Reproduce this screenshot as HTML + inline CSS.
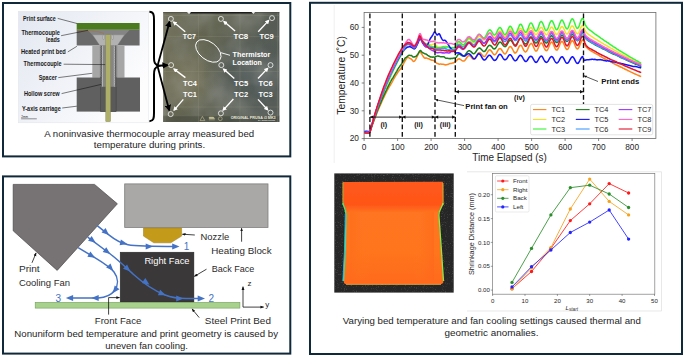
<!DOCTYPE html>
<html><head><meta charset="utf-8">
<style>
html,body{margin:0;padding:0;background:#fff;}
body{width:685px;height:358px;overflow:hidden;font-family:"Liberation Sans",sans-serif;}
svg{display:block;font-family:"Liberation Sans",sans-serif;}
.cap{font-size:9.7px;fill:#1d1d1d;text-anchor:middle;}
.lab{font-size:9.9px;fill:#2a2a2a;}
.bl{font-size:6.3px;font-weight:bold;fill:#1a1a1a;}
.tc{font-size:7px;font-weight:bold;fill:#fff;}
.tick{font-size:8.3px;fill:#262626;}
.stick{font-size:6.1px;fill:#262626;}
</style></head><body>
<svg width="685" height="358" viewBox="0 0 685 358">
<defs>
<linearGradient id="bg1" x1="0" y1="0" x2="1" y2="0.6">
<stop offset="0" stop-color="#e3e8f1"/><stop offset="0.55" stop-color="#f1f3f8"/><stop offset="1" stop-color="#fdfdfe"/>
</linearGradient>
<marker id="ab" viewBox="0 0 10 10" refX="8" refY="5" markerWidth="3.6" markerHeight="3.6" orient="auto-start-reverse"><path d="M0,0 L10,5 L0,10 z" fill="#000"/></marker>
<marker id="abs" viewBox="0 0 10 10" refX="9" refY="5" markerWidth="4.5" markerHeight="4.5" orient="auto-start-reverse"><path d="M0,1 L10,5 L0,9 z" fill="#111"/></marker>
<marker id="aw" viewBox="0 0 10 10" refX="7" refY="5" markerWidth="3.3" markerHeight="3.3" orient="auto"><path d="M0,0 L10,5 L0,10 z" fill="#fff"/></marker>
<marker id="abl" viewBox="0 0 10 10" refX="9" refY="5" markerWidth="4.2" markerHeight="4.2" orient="auto"><path d="M0,0 L10,5 L0,10 z" fill="#4472c4"/></marker>
<filter id="soft" x="-5%" y="-5%" width="110%" height="110%"><feGaussianBlur stdDeviation="0.35"/></filter>
<filter id="soft2" x="-5%" y="-5%" width="110%" height="110%"><feGaussianBlur stdDeviation="0.5"/></filter>
<filter id="noise" x="0" y="0" width="100%" height="100%">
<feTurbulence type="fractalNoise" baseFrequency="0.035" numOctaves="3" seed="7" result="n"/>
<feColorMatrix in="n" type="matrix" values="0 0 0 0 0.30  0 0 0 0 0.31  0 0 0 0 0.28  1.1 1.1 0 0 -0.8" result="c"/>
<feComposite in="c" in2="SourceGraphic" operator="in"/>
</filter>
<linearGradient id="heat" x1="0" y1="0" x2="0" y2="1">
<stop offset="0" stop-color="#ff5a1c"/><stop offset="0.22" stop-color="#ff5518"/><stop offset="0.30" stop-color="#ff7420"/><stop offset="0.7" stop-color="#ff741f"/><stop offset="1" stop-color="#ff6a1c"/>
</linearGradient>
<filter id="grain" x="0" y="0" width="100%" height="100%">
<feTurbulence type="fractalNoise" baseFrequency="0.9" numOctaves="2" seed="3" result="n"/>
<feColorMatrix in="n" type="matrix" values="0 0 0 0 1  0 0 0 0 1  0 0 0 0 1  0.6 0.6 0.6 0 -0.95" result="c"/>
<feComposite in="c" in2="SourceGraphic" operator="in"/>
</filter>
<linearGradient id="heatx" x1="0" y1="0" x2="1" y2="0">
<stop offset="0" stop-color="#ff6a1c" stop-opacity="0.5"/><stop offset="0.25" stop-color="#ff7a22" stop-opacity="0"/><stop offset="0.75" stop-color="#ff7a22" stop-opacity="0"/><stop offset="1" stop-color="#ff641a" stop-opacity="0.5"/>
</linearGradient>
<linearGradient id="phbase" x1="0" y1="0" x2="1" y2="0.3">
<stop offset="0" stop-color="#6f6e58"/><stop offset="0.45" stop-color="#616350"/><stop offset="1" stop-color="#545b56"/>
</linearGradient>
<radialGradient id="phwarm" cx="0.2" cy="0.62" r="0.3">
<stop offset="0" stop-color="#878265" stop-opacity="0.7"/><stop offset="1" stop-color="#8d8667" stop-opacity="0"/>
</radialGradient>
<radialGradient id="phcool" cx="0.72" cy="0.55" r="0.4">
<stop offset="0" stop-color="#4f5a5e" stop-opacity="0.7"/><stop offset="1" stop-color="#4f5a5e" stop-opacity="0"/>
</radialGradient>
<clipPath id="axclip"><rect x="364.1" y="12.4" width="291.8" height="126.2"/></clipPath>
</defs>
<rect width="685" height="358" fill="#fff"/>

<!-- ================= BOX 1 ================= -->
<rect x="3" y="3" width="287.3" height="153.4" fill="#fff" stroke="#10293a" stroke-width="2"/>
<g id="xsec">
<rect x="18.3" y="11.3" width="130.3" height="111.5" fill="url(#bg1)" stroke="#dfe3ea" stroke-width="0.5"/>
<!-- bed -->
<rect x="76.7" y="29.6" width="62.9" height="15.9" fill="#6a6a6a"/>
<rect x="76.7" y="23" width="62.9" height="6.7" fill="#4b7a1f"/>
<!-- countersink -->
<path d="M87.6,30 L129.5,30 L116.2,44.6 L101,44.6 Z" fill="#858585"/>
<path d="M92.6,34.8 L124.5,34.8 L117.3,45.6 L99.8,45.6 Z" fill="#b2b2b2" stroke="#7a7a7a" stroke-width="0.3"/>
<path d="M77,30.2 C90,30.5 98,31 104,33.5" fill="none" stroke="#a8712a" stroke-width="0.5"/>
<!-- spacer -->
<rect x="92.3" y="45.5" width="32.2" height="32.2" fill="#a6a6a6"/>
<rect x="99.8" y="45.5" width="17.5" height="32.2" fill="#8d8d8d"/>
<!-- carriage -->
<rect x="76.7" y="77.5" width="63.3" height="34.1" fill="#606060"/>
<rect x="100.7" y="77.5" width="15.4" height="34.1" fill="#5a5a5a" stroke="#3e3e3e" stroke-width="0.5"/>
<!-- screw threaded body -->
<rect x="100.6" y="45.5" width="15.6" height="41.3" fill="#868686"/>
<path d="M100.70,45.80 L102.00,46.65 L100.70,47.50 L102.00,48.35 L100.70,49.20 L102.00,50.05 L100.70,50.90 L102.00,51.75 L100.70,52.60 L102.00,53.45 L100.70,54.30 L102.00,55.15 L100.70,56.00 L102.00,56.85 L100.70,57.70 L102.00,58.55 L100.70,59.40 L102.00,60.25 L100.70,61.10 L102.00,61.95 L100.70,62.80 L102.00,63.65 L100.70,64.50 L102.00,65.35 L100.70,66.20 L102.00,67.05 L100.70,67.90 L102.00,68.75 L100.70,69.60 L102.00,70.45 L100.70,71.30 L102.00,72.15 L100.70,73.00 L102.00,73.85 L100.70,74.70 L102.00,75.55 L100.70,76.40 L102.00,77.25 L100.70,78.10 L102.00,78.95 L100.70,79.80 L102.00,80.65 L100.70,81.50 L102.00,82.35 L100.70,83.20 L102.00,84.05 L100.70,84.90 L102.00,85.75 L100.70,86.60" fill="none" stroke="#3f3f3f" stroke-width="0.5"/>
<path d="M116.10,45.80 L114.80,46.65 L116.10,47.50 L114.80,48.35 L116.10,49.20 L114.80,50.05 L116.10,50.90 L114.80,51.75 L116.10,52.60 L114.80,53.45 L116.10,54.30 L114.80,55.15 L116.10,56.00 L114.80,56.85 L116.10,57.70 L114.80,58.55 L116.10,59.40 L114.80,60.25 L116.10,61.10 L114.80,61.95 L116.10,62.80 L114.80,63.65 L116.10,64.50 L114.80,65.35 L116.10,66.20 L114.80,67.05 L116.10,67.90 L114.80,68.75 L116.10,69.60 L114.80,70.45 L116.10,71.30 L114.80,72.15 L116.10,73.00 L114.80,73.85 L116.10,74.70 L114.80,75.55 L116.10,76.40 L114.80,77.25 L116.10,78.10 L114.80,78.95 L116.10,79.80 L114.80,80.65 L116.10,81.50 L114.80,82.35 L116.10,83.20 L114.80,84.05 L116.10,84.90 L114.80,85.75 L116.10,86.60" fill="none" stroke="#3f3f3f" stroke-width="0.5"/>
<path d="M101.90,45.80 L103.00,46.65 L101.90,47.50 L103.00,48.35 L101.90,49.20 L103.00,50.05 L101.90,50.90 L103.00,51.75 L101.90,52.60 L103.00,53.45 L101.90,54.30 L103.00,55.15 L101.90,56.00 L103.00,56.85 L101.90,57.70 L103.00,58.55 L101.90,59.40 L103.00,60.25 L101.90,61.10 L103.00,61.95 L101.90,62.80 L103.00,63.65 L101.90,64.50 L103.00,65.35 L101.90,66.20 L103.00,67.05 L101.90,67.90 L103.00,68.75 L101.90,69.60 L103.00,70.45 L101.90,71.30 L103.00,72.15 L101.90,73.00 L103.00,73.85 L101.90,74.70 L103.00,75.55 L101.90,76.40 L103.00,77.25 L101.90,78.10 L103.00,78.95 L101.90,79.80 L103.00,80.65 L101.90,81.50 L103.00,82.35 L101.90,83.20 L103.00,84.05 L101.90,84.90 L103.00,85.75 L101.90,86.60" fill="none" stroke="#e6e6e6" stroke-width="0.45"/>
<path d="M114.90,45.80 L113.80,46.65 L114.90,47.50 L113.80,48.35 L114.90,49.20 L113.80,50.05 L114.90,50.90 L113.80,51.75 L114.90,52.60 L113.80,53.45 L114.90,54.30 L113.80,55.15 L114.90,56.00 L113.80,56.85 L114.90,57.70 L113.80,58.55 L114.90,59.40 L113.80,60.25 L114.90,61.10 L113.80,61.95 L114.90,62.80 L113.80,63.65 L114.90,64.50 L113.80,65.35 L114.90,66.20 L113.80,67.05 L114.90,67.90 L113.80,68.75 L114.90,69.60 L113.80,70.45 L114.90,71.30 L113.80,72.15 L114.90,73.00 L113.80,73.85 L114.90,74.70 L113.80,75.55 L114.90,76.40 L113.80,77.25 L114.90,78.10 L113.80,78.95 L114.90,79.80 L113.80,80.65 L114.90,81.50 L113.80,82.35 L114.90,83.20 L113.80,84.05 L114.90,84.90 L113.80,85.75 L114.90,86.60" fill="none" stroke="#e6e6e6" stroke-width="0.45"/>
<!-- thermocouple -->
<rect x="105.8" y="34.8" width="4.7" height="86.8" fill="#aeb06a" stroke="#83854c" stroke-width="0.45"/>
<rect x="102.8" y="35" width="1.6" height="4.5" rx="0.8" fill="#c6c6c6" stroke="#666" stroke-width="0.3"/>
<rect x="111.8" y="35" width="1.6" height="4.5" rx="0.8" fill="#c6c6c6" stroke="#666" stroke-width="0.3"/>
<!-- leader lines -->
<g stroke="#111" stroke-width="0.55" fill="none">
<path d="M57.7,18.4 L77,23.5"/>
<path d="M61.1,35.7 L88,30.3"/>
<path d="M67.8,51.9 L76.9,46.3"/>
<path d="M63.6,64.2 L105.2,64.6"/>
<path d="M58.3,77.6 L92.2,73.3"/>
<path d="M61.6,93.6 L101.2,84.4"/>
<path d="M62.2,108 L76.8,106.2"/>
<path d="M21.1,118.8 L36.8,118.8" stroke-width="0.45"/>
</g>
<g class="bl">
<text x="23" y="20.6" textLength="32.7" lengthAdjust="spacingAndGlyphs">Print surface</text>
<text x="21.4" y="34.6" textLength="38.5" lengthAdjust="spacingAndGlyphs">Thermocouple</text>
<text x="46" y="41.8" textLength="13.9" lengthAdjust="spacingAndGlyphs">leads</text>
<text x="20.9" y="53.6" textLength="44.9" lengthAdjust="spacingAndGlyphs">Heated print bed</text>
<text x="23.6" y="66.2" textLength="38" lengthAdjust="spacingAndGlyphs">Thermocouple</text>
<text x="38.7" y="79.6" textLength="18.1" lengthAdjust="spacingAndGlyphs">Spacer</text>
<text x="23.9" y="95.7" textLength="35.8" lengthAdjust="spacingAndGlyphs">Hollow screw</text>
<text x="21.9" y="110.5" textLength="38.8" lengthAdjust="spacingAndGlyphs">Y-axis carriage</text>
<text x="21.3" y="117.8" style="font-size:3px;font-weight:normal">2mm</text>
</g>
</g>
<!-- brace -->
<path d="M149.4,11.8 C153.8,12 154,15 154,20 L154,58 C154,62 154.5,64.6 159.3,65.9 C154.5,67.2 154,69.8 154,75 L154,113 C154,118 153.8,121 149.4,121.3" fill="none" stroke="#000" stroke-width="2"/>
<!-- photo -->
<g id="photo">
<rect x="163.2" y="12" width="116.2" height="110" fill="url(#phbase)"/>
<rect x="163.2" y="12" width="116.2" height="110" fill="url(#phwarm)"/>
<rect x="163.2" y="12" width="116.2" height="110" fill="url(#phcool)"/>
<rect x="163.2" y="12" width="116.2" height="110" fill="#fff" filter="url(#noise)" opacity="0.55"/>
<rect x="163.2" y="115.6" width="116.2" height="6.4" fill="#383b32" opacity="0.4"/>
<g stroke="#9a9982" stroke-width="0.4" opacity="0.55">
<path d="M163.2,36.5 H279.4 M163.2,71.5 H279.4 M163.2,107 H279.4 M163.2,115.8 H279.4 M198.5,12 V122 M240,12 V122 M277.5,12 V122 M165,12 V122 M163.2,15.5 H279.4"/>
</g>
<rect x="163.2" y="12" width="116.2" height="1.2" fill="#3a3a34" opacity="0.5"/><rect x="188" y="12" width="65" height="1.5" fill="#1c1c1a"/>
<path d="M187,12 l2,2.2 l2,-2.2 z M251.5,12 l1.8,2 l1.8,-2 z" fill="#eee"/>
<g fill="none" stroke="#fff" stroke-width="0.75">
<circle cx="170.9" cy="18.9" r="2.5"/><circle cx="220.9" cy="18.9" r="2.5"/><circle cx="272" cy="18.1" r="2.5"/>
<circle cx="171.1" cy="65.1" r="2.5"/><circle cx="221.3" cy="65.1" r="2.5"/><circle cx="270.5" cy="65.1" r="2.5"/>
<circle cx="170.7" cy="114.1" r="2.5"/><circle cx="220.9" cy="113.3" r="2.5"/><circle cx="270.5" cy="112.6" r="2.5"/>
<ellipse cx="208.3" cy="50.9" rx="14.6" ry="8.8" transform="rotate(38 208.3 50.9)" stroke-width="0.9"/>
<path d="M220.6,52.6 L230,55.3" stroke-width="0.9"/>
</g>
<g fill="none" stroke="#fff" stroke-width="1.35" marker-end="url(#aw)">
<path d="M185.2,31.8 L173.6,22.1"/>
<path d="M235.1,31 L224,21.6"/>
<path d="M258.2,31.8 L268.6,20.6"/>
<path d="M185.4,77.6 L174.1,69.1"/>
<path d="M234.3,78.5 L223.6,69.1"/>
<path d="M258,78.5 L267.6,68.4"/>
<path d="M183.3,99.4 L174.1,110.1"/>
<path d="M233.4,99 L223.2,110.1"/>
<path d="M258,99.4 L267.6,109.7"/>
</g>
<g class="tc">
<text x="182.7" y="38.9" textLength="13.3" lengthAdjust="spacingAndGlyphs">TC7</text>
<text x="233.4" y="38.9" textLength="14.8" lengthAdjust="spacingAndGlyphs">TC8</text>
<text x="259.4" y="38.9" textLength="14.3" lengthAdjust="spacingAndGlyphs">TC9</text>
<text x="182.9" y="85.7" textLength="14" lengthAdjust="spacingAndGlyphs">TC4</text>
<text x="233.9" y="85.7" textLength="14.2" lengthAdjust="spacingAndGlyphs">TC5</text>
<text x="258.4" y="85.7" textLength="14.2" lengthAdjust="spacingAndGlyphs">TC6</text>
<text x="182.9" y="96.6" textLength="14" lengthAdjust="spacingAndGlyphs">TC1</text>
<text x="233.9" y="96.6" textLength="14.2" lengthAdjust="spacingAndGlyphs">TC2</text>
<text x="258.4" y="96.6" textLength="14.2" lengthAdjust="spacingAndGlyphs">TC3</text>
<text x="232.6" y="57.2" textLength="37.7" lengthAdjust="spacingAndGlyphs" style="font-size:6.9px">Thermistor</text>
<text x="232.6" y="64.7" textLength="29.3" lengthAdjust="spacingAndGlyphs" style="font-size:6.9px">Location</text>
<text x="230.7" y="118.6" textLength="45" lengthAdjust="spacingAndGlyphs" style="font-size:3.8px;fill:#ecebdc">ORIGINAL PRUSA i3 MK3</text>
<text x="258" y="121.3" textLength="17" lengthAdjust="spacingAndGlyphs" style="font-size:2.4px;font-weight:normal">by Josef Prusa</text>
</g>
<g fill="none" stroke="#d9d1a0" stroke-width="0.5">
<path d="M200,120.6 l2.4,-4.2 l2.4,4.2 z"/>
<circle cx="220.3" cy="118.7" r="1.9"/>
<path d="M209.2,117.2 h4.2 l1.2,1.2 h-5.4 z M208.8,119.8 h6" fill="#d9d1a0"/>
</g>
</g>
<!-- black arrows from brace -->
<g stroke="#000" stroke-width="1.8" fill="none" marker-end="url(#ab)">
<path d="M157.5,65.9 L169.6,21.8"/>
<path d="M157.5,65.7 L167.6,65.2"/>
<path d="M157.5,65.9 L169.2,110.2"/>
</g>
<text class="cap" x="149.2" y="136.5" textLength="210" lengthAdjust="spacingAndGlyphs">A noninvasive thermocouple array measured bed</text>
<text class="cap" x="149.5" y="148.2" textLength="111.4" lengthAdjust="spacingAndGlyphs">temperature during prints.</text>

<!-- ================= BOX 2 ================= -->
<rect x="3" y="176.4" width="287.3" height="177.2" fill="#fff" stroke="#10293a" stroke-width="2"/>
<path d="M13.2,184.4 L94.5,184.4 L117.4,203.8 L57.2,270.4 L13.2,230.8 Z" fill="#777374" stroke="#4a4848" stroke-width="0.7"/>
<rect x="124.7" y="183.9" width="143.3" height="43.5" fill="#aaa7a7" stroke="#7f7d7d" stroke-width="0.8"/>
<path d="M143.5,228 L181.6,228 L181.6,236.1 L170.8,242.8 L153.8,242.8 L143.5,236.1 Z" fill="#c49a1b" stroke="#9a7a10" stroke-width="0.5"/>
<rect x="120.2" y="252.2" width="73.7" height="49.9" fill="#3a3838" stroke="#222" stroke-width="0.5"/>
<rect x="35.2" y="302.4" width="204.7" height="5.7" fill="#a9d18e" stroke="#6f9f55" stroke-width="0.6"/>
<!-- blue flows -->
<g fill="none" stroke="#4472c4" stroke-width="1.5">
<path d="M97.2,225.6 L108.5,234.6 C114,239 120,243.2 128,244.7 C136,246.1 150,246.4 176,246.4"/>
<path d="M87.7,237.1 L110.3,254 C118,260 126,267.5 133,274 C143,283 155,291 165,295 C172,297.8 178,298.5 186,298.5 L201,298.5"/>
<path d="M78.1,247.7 L95.2,257.8 C103,262.5 110,267 114,272 C118.5,278 118.5,285 114.5,290.5 C111,295.5 105,297.5 98,298 L69,298"/>
</g>
<g fill="#4472c4">
<path d="M0,0 L-7.3,-3 L-7.3,3 Z" transform="translate(109,235.1) rotate(42)"/>
<path d="M0,0 L-7.3,-3 L-7.3,3 Z" transform="translate(127.4,243.9) rotate(12)"/>
<path d="M0,0 L-7.3,-3 L-7.3,3 Z" transform="translate(153,246.4) rotate(0)"/>
<path d="M0,0 L-7.3,-3 L-7.3,3 Z" transform="translate(179.5,246.4) rotate(0)"/>
<path d="M0,0 L-7.3,-3 L-7.3,3 Z" transform="translate(95.7,242.7) rotate(37)"/>
<path d="M0,0 L-7.3,-3 L-7.3,3 Z" transform="translate(110.3,254) rotate(37)"/>
<path d="M0,0 L-7.3,-3 L-7.3,3 Z" transform="translate(130.4,271.6) rotate(43)"/>
<path d="M0,0 L-7.3,-3 L-7.3,3 Z" transform="translate(149.5,284.8) rotate(36)"/>
<path d="M0,0 L-7.3,-3 L-7.3,3 Z" transform="translate(165.8,295.2) rotate(22)"/>
<path d="M0,0 L-7.3,-3 L-7.3,3 Z" transform="translate(183.5,298.5) rotate(0)"/>
<path d="M0,0 L-7.3,-3 L-7.3,3 Z" transform="translate(205,298.5) rotate(0)"/>
<path d="M0,0 L-7.3,-3 L-7.3,3 Z" transform="translate(95.2,257.8) rotate(30)"/>
<path d="M0,0 L-7.3,-3 L-7.3,3 Z" transform="translate(113.3,270.8) rotate(47)"/>
<path d="M0,0 L-7.3,-3 L-7.3,3 Z" transform="translate(112.6,293.2) rotate(128)"/>
<path d="M0,0 L-7.3,-3 L-7.3,3 Z" transform="translate(91.4,298) rotate(180)"/>
<path d="M0,0 L-7.3,-3 L-7.3,3 Z" transform="translate(65.8,298) rotate(180)"/>
</g>
<g fill="#4472c4" style="font-size:10px">
<text x="183.8" y="250">1</text>
<text x="208.6" y="302">2</text>
<text x="55.5" y="302">3</text>
</g>
<g stroke="#111" stroke-width="0.8" fill="none" marker-end="url(#abs)">
<path d="M32,262.8 L36.1,252.9"/>
<path d="M194.8,235 L182.3,234.2"/>
<path d="M241.6,241.7 L241.6,228.2"/>
<path d="M206.5,269.2 L194.3,276.4"/>
<path d="M199.2,317.6 L192,308.9"/>
<path d="M108.6,314.6 L108.6,297.6 L119.6,297.6"/>
<path d="M243,307.1 L243,286.7"/>
<path d="M243,307.1 L263.7,307.1"/>
</g>
<g class="lab">
<text x="18.9" y="272.3" textLength="20.8" lengthAdjust="spacingAndGlyphs">Print</text>
<text x="18.9" y="285.8" textLength="51.1" lengthAdjust="spacingAndGlyphs">Cooling Fan</text>
<text x="200.5" y="239.6" textLength="28.7" lengthAdjust="spacingAndGlyphs">Nozzle</text>
<text x="211.2" y="254.1" textLength="60.5" lengthAdjust="spacingAndGlyphs">Heating Block</text>
<text x="211.7" y="271.6" textLength="42.7" lengthAdjust="spacingAndGlyphs">Back Face</text>
<text x="144.4" y="264" textLength="45.1" lengthAdjust="spacingAndGlyphs" fill="#fff">Right Face</text>
<text x="94.8" y="324.3" textLength="46.5" lengthAdjust="spacingAndGlyphs">Front Face</text>
<text x="204.8" y="323.8" textLength="66.1" lengthAdjust="spacingAndGlyphs">Steel Print Bed</text>
<text x="247.4" y="285.8" style="font-size:8px">z</text>
<text x="265.3" y="307.3" style="font-size:8px">y</text>
</g>
<text class="cap" x="146.2" y="337" textLength="263.7" lengthAdjust="spacingAndGlyphs">Nonuniform bed temperature and print geometry is caused by</text>
<text class="cap" x="146.6" y="348.9" textLength="82.6" lengthAdjust="spacingAndGlyphs">uneven fan cooling.</text>

<!-- ================= BOX 3 ================= -->
<rect x="310" y="2.8" width="372" height="351.2" fill="#fff" stroke="#10293a" stroke-width="2"/>
<!-- top chart -->
<path d="M334.2,5 V163" fill="none" stroke="#e4e4e4" stroke-width="0.6"/>
<g clip-path="url(#axclip)" fill="none" stroke-width="1.5" stroke-linejoin="round">
<path d="M364.2,132.3 L364.7,132.2 L365.2,132.2 L365.7,132.3 L366.2,132.5 L366.7,132.5 L367.2,132.5 L367.7,132.4 L368.2,132.5 L368.7,132.4 L369.2,132.3 L369.7,131.9 L370.2,130.9 L370.7,129.5 L371.2,128.1 L371.7,126.7 L372.2,125.3 L372.7,124.0 L373.2,122.7 L373.7,121.3 L374.2,120.1 L374.7,118.8 L375.2,117.5 L375.7,116.2 L376.2,114.9 L376.7,113.6 L377.2,112.3 L377.7,111.1 L378.2,109.9 L378.7,108.7 L379.2,107.6 L379.7,106.5 L380.2,105.4 L380.7,104.3 L381.2,103.1 L381.7,101.9 L382.2,100.7 L382.7,99.6 L383.2,98.6 L383.7,97.6 L384.2,96.6 L384.7,95.5 L385.2,94.5 L385.7,93.5 L386.2,92.4 L386.7,91.4 L387.2,90.5 L387.7,89.6 L388.2,88.6 L388.7,87.8 L389.2,86.9 L389.7,86.1 L390.2,85.3 L390.7,84.5 L391.2,83.6 L391.7,82.8 L392.2,81.9 L392.7,81.0 L393.2,80.0 L393.7,79.0 L394.2,78.2 L394.7,77.3 L395.2,76.4 L395.7,75.6 L396.2,74.9 L396.7,74.2 L397.2,73.3 L397.7,72.5 L398.2,71.8 L398.7,71.1 L399.2,70.5 L399.7,69.9 L400.2,69.3 L400.7,68.7 L401.2,68.0 L401.7,67.3 L402.2,66.6 L402.7,65.7 L403.2,64.6 L403.7,63.5 L404.2,62.3 L404.7,61.5 L405.2,60.7 L405.7,59.9 L406.2,58.9 L406.7,58.1 L407.2,57.6 L407.7,57.2 L408.2,57.2 L408.7,57.7 L409.2,57.9 L409.7,58.3 L410.2,58.4 L410.7,58.8 L411.2,59.0 L411.7,59.5 L412.2,60.1 L412.7,60.8 L413.2,61.3 L413.7,61.4 L414.2,61.3 L414.7,60.8 L415.2,60.2 L415.7,59.4 L416.2,58.4 L416.7,57.5 L417.2,56.5 L417.7,55.5 L418.2,54.3 L418.7,53.1 L419.2,52.1 L419.7,51.6 L420.2,51.7 L420.7,52.3 L421.2,53.3 L421.7,54.0 L422.2,54.9 L422.7,55.6 L423.2,56.5 L423.7,57.1 L424.2,57.8 L424.7,58.0 L425.2,58.3 L425.7,58.0 L426.2,58.0 L426.7,58.1 L427.2,58.5 L427.7,58.6 L428.2,58.7 L428.7,58.7 L429.2,59.1 L429.7,59.3 L430.2,59.6 L430.7,59.8 L431.2,60.0 L431.7,60.2 L432.2,60.3 L432.7,60.2 L433.2,60.4 L433.7,60.4 L434.2,60.9 L434.7,61.2 L435.2,61.8 L435.7,62.3 L436.2,62.8 L436.7,63.2 L437.2,63.4 L437.7,63.5 L438.2,63.8 L438.7,63.9 L439.2,64.3 L439.7,64.2 L440.2,64.1 L440.7,64.0 L441.2,64.1 L441.7,64.3 L442.2,64.3 L442.7,64.3 L443.2,64.2 L443.7,64.4 L444.2,64.5 L444.7,64.7 L445.2,64.8 L445.7,64.9 L446.2,64.8 L446.7,64.7 L447.2,64.6 L447.7,64.6 L448.2,64.3 L448.7,64.1 L449.2,63.8 L449.7,63.6 L450.2,63.4 L450.7,63.4 L451.2,63.4 L451.7,63.3 L452.2,63.1 L452.7,63.0 L453.2,62.9 L453.7,62.8 L454.2,62.4 L454.7,61.9 L455.2,61.7 L455.7,61.4 L456.2,61.1 L456.7,60.4 L457.2,59.8 L457.7,59.4 L458.2,59.0 L458.7,58.9 L459.2,58.8 L459.7,59.0 L460.2,59.3 L460.7,59.6 L461.2,60.0 L461.7,60.4 L462.2,60.7 L462.7,60.9 L463.2,61.0 L463.7,61.0 L464.2,60.9 L464.7,60.5 L465.2,59.9 L465.7,59.3 L466.2,58.5 L466.7,57.8 L467.2,57.0 L467.7,56.4 L468.2,55.9 L468.7,55.7 L469.2,55.6 L469.7,55.7 L470.2,56.0 L470.7,56.5 L471.2,57.1 L471.7,57.7 L472.2,58.3 L472.7,58.9 L473.2,59.2 L473.7,59.3 L474.2,59.1 L474.7,58.9 L475.2,58.4 L475.7,57.8 L476.2,56.8 L476.7,55.8 L477.2,54.9 L477.7,54.0 L478.2,53.3 L478.7,52.8 L479.2,52.6 L479.7,52.6 L480.2,52.8 L480.7,53.2 L481.2,53.8 L481.7,54.4 L482.2,55.1 L482.7,55.7 L483.2,56.1 L483.7,56.4 L484.2,56.5 L484.7,56.4 L485.2,56.1 L485.7,55.4 L486.2,54.5 L486.7,53.6 L487.2,52.7 L487.7,51.8 L488.2,51.0 L488.7,50.3 L489.2,50.0 L489.7,49.8 L490.2,50.0 L490.7,50.3 L491.2,50.9 L491.7,51.5 L492.2,52.3 L492.7,53.1 L493.2,53.8 L493.7,54.4 L494.2,54.7 L494.7,54.7 L495.2,54.5 L495.7,54.1 L496.2,53.5 L496.7,52.7 L497.2,51.7 L497.7,50.8 L498.2,49.9 L498.7,49.2 L499.2,48.8 L499.7,48.6 L500.2,48.6 L500.7,48.8 L501.2,49.3 L501.7,50.0 L502.2,50.8 L502.7,51.6 L503.2,52.3 L503.7,53.0 L504.2,53.6 L504.7,53.9 L505.2,53.9 L505.7,53.5 L506.2,52.9 L506.7,52.0 L507.2,51.1 L507.7,50.0 L508.2,49.0 L508.7,48.0 L509.2,47.3 L509.7,46.8 L510.2,46.5 L510.7,46.6 L511.2,47.0 L511.7,47.7 L512.2,48.6 L512.7,49.5 L513.2,50.5 L513.7,51.5 L514.2,52.3 L514.7,52.9 L515.2,53.0 L515.7,52.8 L516.2,52.4 L516.7,51.7 L517.2,50.8 L517.7,49.6 L518.2,48.5 L518.7,47.4 L519.2,46.4 L519.7,45.8 L520.2,45.4 L520.7,45.3 L521.2,45.5 L521.7,46.1 L522.2,47.0 L522.7,48.1 L523.2,49.1 L523.7,50.2 L524.2,50.9 L524.7,51.6 L525.2,51.9 L525.7,51.9 L526.2,51.5 L526.7,50.9 L527.2,50.1 L527.7,49.1 L528.2,47.9 L528.7,46.7 L529.2,45.6 L529.7,44.8 L530.2,44.2 L530.7,43.7 L531.2,43.5 L531.7,43.6 L532.2,44.2 L532.7,45.1 L533.2,46.2 L533.7,47.4 L534.2,48.5 L534.7,49.6 L535.2,50.5 L535.7,51.0 L536.2,51.0 L536.7,50.8 L537.2,50.2 L537.7,49.2 L538.2,48.1 L538.7,46.8 L539.2,45.6 L539.7,44.6 L540.2,43.7 L540.7,43.2 L541.2,43.0 L541.7,43.2 L542.2,43.7 L542.7,44.7 L543.2,45.7 L543.7,46.8 L544.2,48.0 L544.7,49.0 L545.2,49.8 L545.7,50.4 L546.2,50.7 L546.7,50.6 L547.2,50.2 L547.7,49.5 L548.2,48.5 L548.7,47.3 L549.2,46.0 L549.7,44.8 L550.2,43.6 L550.7,42.8 L551.2,42.2 L551.7,42.1 L552.2,42.4 L552.7,43.0 L553.2,43.9 L553.7,45.1 L554.2,46.4 L554.7,47.5 L555.2,48.6 L555.7,49.3 L556.2,49.9 L556.7,50.0 L557.2,49.9 L557.7,49.3 L558.2,48.5 L558.7,47.4 L559.2,46.2 L559.7,44.8 L560.2,43.5 L560.7,42.5 L561.2,41.8 L561.7,41.5 L562.2,41.5 L562.7,41.9 L563.2,42.6 L563.7,43.6 L564.2,44.8 L564.7,46.0 L565.2,47.2 L565.7,48.2 L566.2,48.9 L566.7,49.4 L567.2,49.4 L567.7,49.3 L568.2,48.6 L568.7,47.6 L569.2,46.4 L569.7,45.1 L570.2,43.8 L570.7,42.6 L571.2,41.7 L571.7,41.0 L572.2,40.7 L572.7,40.8 L573.2,41.4 L573.7,42.2 L574.2,43.3 L574.7,44.5 L575.2,45.8 L575.7,46.9 L576.2,47.9 L576.7,48.5 L577.2,48.9 L577.7,48.8 L578.2,48.4 L578.7,47.7 L579.2,46.7 L579.7,45.4 L580.2,44.1 L580.7,42.9 L581.2,41.7 L581.7,40.8 L582.2,40.3 L582.7,40.1 L583.2,40.5 L583.7,41.5 L584.2,42.9 L584.7,44.4 L585.2,45.6 L585.7,46.4 L586.2,47.0 L586.7,47.5 L587.2,48.0 L587.7,48.5 L588.2,48.9 L588.7,49.4 L589.2,49.7 L589.7,50.1 L590.2,50.4 L590.7,50.7 L591.2,51.1 L591.7,51.3 L592.2,51.6 L592.7,51.9 L593.2,52.1 L593.7,52.5 L594.2,52.7 L594.7,53.1 L595.2,53.3 L595.7,53.6 L596.2,53.9 L596.7,54.1 L597.2,54.4 L597.7,54.7 L598.2,54.9 L598.7,55.2 L599.2,55.5 L599.7,56.0 L600.2,56.2 L600.7,56.5 L601.2,56.7 L601.7,57.1 L602.2,57.4 L602.7,57.7 L603.2,58.0 L603.7,58.2 L604.2,58.5 L604.7,58.7 L605.2,59.0 L605.7,59.2 L606.2,59.5 L606.7,59.7 L607.2,59.9 L607.7,60.1 L608.2,60.3 L608.7,60.6 L609.2,60.9 L609.7,61.1 L610.2,61.5 L610.7,61.8 L611.2,62.0 L611.7,62.3 L612.2,62.7 L612.7,63.0 L613.2,63.3 L613.7,63.6 L614.2,63.8 L614.7,64.0 L615.2,64.3 L615.7,64.5 L616.2,64.8 L616.7,65.1 L617.2,65.3 L617.7,65.5 L618.2,65.8 L618.7,66.0 L619.2,66.3 L619.7,66.5 L620.2,66.8 L620.7,67.0 L621.2,67.2 L621.7,67.4 L622.2,67.7 L622.7,68.0 L623.2,68.2 L623.7,68.4 L624.2,68.7 L624.7,69.0 L625.2,69.3 L625.7,69.5 L626.2,69.7 L626.7,69.9 L627.2,70.2 L627.7,70.5 L628.2,70.7 L628.7,70.9 L629.2,71.2 L629.7,71.4 L630.2,71.7 L630.7,71.9 L631.2,72.2 L631.7,72.4 L632.2,72.6 L632.7,72.8 L633.2,73.1 L633.7,73.4 L634.2,73.6 L634.7,73.9 L635.2,74.0 L635.7,74.2 L636.2,74.4 L636.7,74.6 L637.2,74.9 L637.7,75.1 L638.2,75.4 L638.7,75.5 L639.2,75.8 L639.7,76.0 L640.2,76.2 L640.7,76.4 L641.2,76.5" stroke="#ff8419"/>
<path d="M364.2,132.2 L364.7,132.2 L365.2,132.2 L365.7,132.4 L366.2,132.4 L366.7,132.5 L367.2,132.4 L367.7,132.4 L368.2,132.4 L368.7,132.3 L369.2,132.3 L369.7,131.7 L370.2,130.7 L370.7,129.3 L371.2,127.7 L371.7,126.2 L372.2,124.6 L372.7,123.1 L373.2,121.7 L373.7,120.3 L374.2,118.9 L374.7,117.4 L375.2,115.9 L375.7,114.5 L376.2,113.0 L376.7,111.7 L377.2,110.2 L377.7,108.7 L378.2,107.2 L378.7,105.8 L379.2,104.3 L379.7,102.9 L380.2,101.5 L380.7,100.2 L381.2,98.9 L381.7,97.6 L382.2,96.3 L382.7,95.1 L383.2,93.9 L383.7,92.7 L384.2,91.5 L384.7,90.3 L385.2,89.1 L385.7,87.9 L386.2,86.8 L386.7,85.6 L387.2,84.5 L387.7,83.4 L388.2,82.3 L388.7,81.1 L389.2,79.9 L389.7,78.7 L390.2,77.6 L390.7,76.5 L391.2,75.3 L391.7,74.0 L392.2,72.9 L392.7,71.8 L393.2,70.8 L393.7,69.7 L394.2,68.7 L394.7,67.7 L395.2,66.7 L395.7,65.6 L396.2,64.6 L396.7,63.6 L397.2,62.7 L397.7,61.7 L398.2,60.8 L398.7,59.8 L399.2,59.0 L399.7,58.0 L400.2,57.1 L400.7,56.2 L401.2,55.4 L401.7,54.6 L402.2,53.8 L402.7,52.8 L403.2,51.9 L403.7,51.2 L404.2,50.5 L404.7,49.8 L405.2,48.9 L405.7,47.9 L406.2,47.1 L406.7,46.3 L407.2,45.7 L407.7,45.2 L408.2,45.0 L408.7,44.9 L409.2,45.2 L409.7,45.2 L410.2,45.5 L410.7,45.7 L411.2,46.1 L411.7,46.5 L412.2,47.1 L412.7,47.7 L413.2,48.2 L413.7,48.7 L414.2,48.7 L414.7,48.7 L415.2,48.1 L415.7,47.2 L416.2,46.0 L416.7,44.9 L417.2,43.7 L417.7,42.3 L418.2,40.8 L418.7,39.2 L419.2,37.8 L419.7,36.7 L420.2,36.4 L420.7,36.9 L421.2,38.2 L421.7,39.5 L422.2,40.3 L422.7,41.0 L423.2,41.5 L423.7,42.3 L424.2,42.8 L424.7,43.2 L425.2,43.4 L425.7,43.7 L426.2,43.8 L426.7,43.6 L427.2,43.5 L427.7,43.4 L428.2,43.7 L428.7,43.8 L429.2,44.2 L429.7,44.4 L430.2,44.6 L430.7,44.8 L431.2,44.9 L431.7,44.9 L432.2,44.7 L432.7,44.5 L433.2,44.2 L433.7,44.1 L434.2,44.1 L434.7,44.3 L435.2,44.7 L435.7,45.0 L436.2,45.4 L436.7,45.8 L437.2,46.5 L437.7,46.9 L438.2,47.1 L438.7,47.1 L439.2,47.1 L439.7,47.1 L440.2,47.0 L440.7,47.0 L441.2,47.1 L441.7,47.0 L442.2,46.7 L442.7,46.7 L443.2,46.6 L443.7,46.6 L444.2,46.5 L444.7,46.4 L445.2,46.3 L445.7,46.2 L446.2,46.3 L446.7,46.6 L447.2,46.8 L447.7,47.1 L448.2,47.4 L448.7,47.7 L449.2,48.0 L449.7,48.3 L450.2,48.5 L450.7,48.5 L451.2,48.4 L451.7,48.5 L452.2,48.5 L452.7,48.5 L453.2,48.1 L453.7,47.9 L454.2,47.6 L454.7,47.5 L455.2,47.0 L455.7,46.4 L456.2,45.6 L456.7,44.7 L457.2,43.9 L457.7,43.0 L458.2,42.5 L458.7,42.3 L459.2,42.4 L459.7,42.7 L460.2,43.1 L460.7,43.6 L461.2,44.2 L461.7,44.7 L462.2,45.1 L462.7,45.4 L463.2,45.5 L463.7,45.4 L464.2,45.1 L464.7,44.6 L465.2,43.9 L465.7,43.2 L466.2,42.3 L466.7,41.5 L467.2,40.7 L467.7,40.1 L468.2,39.7 L468.7,39.4 L469.2,39.2 L469.7,39.2 L470.2,39.5 L470.7,40.1 L471.2,40.8 L471.7,41.4 L472.2,42.0 L472.7,42.5 L473.2,42.8 L473.7,42.9 L474.2,42.7 L474.7,42.2 L475.2,41.7 L475.7,40.9 L476.2,40.2 L476.7,39.2 L477.2,38.3 L477.7,37.5 L478.2,36.9 L478.7,36.5 L479.2,36.3 L479.7,36.4 L480.2,36.6 L480.7,37.2 L481.2,37.7 L481.7,38.3 L482.2,38.9 L482.7,39.4 L483.2,39.8 L483.7,40.0 L484.2,40.0 L484.7,39.7 L485.2,39.2 L485.7,38.6 L486.2,37.8 L486.7,36.9 L487.2,36.0 L487.7,35.2 L488.2,34.4 L488.7,33.9 L489.2,33.4 L489.7,33.3 L490.2,33.3 L490.7,33.8 L491.2,34.2 L491.7,34.8 L492.2,35.5 L492.7,36.3 L493.2,36.9 L493.7,37.3 L494.2,37.5 L494.7,37.6 L495.2,37.4 L495.7,36.9 L496.2,36.2 L496.7,35.3 L497.2,34.3 L497.7,33.4 L498.2,32.5 L498.7,31.8 L499.2,31.2 L499.7,31.0 L500.2,31.0 L500.7,31.4 L501.2,31.9 L501.7,32.6 L502.2,33.4 L502.7,34.3 L503.2,35.1 L503.7,35.8 L504.2,36.3 L504.7,36.4 L505.2,36.2 L505.7,36.0 L506.2,35.4 L506.7,34.8 L507.2,33.8 L507.7,32.9 L508.2,31.9 L508.7,31.1 L509.2,30.3 L509.7,29.7 L510.2,29.5 L510.7,29.6 L511.2,30.0 L511.7,30.6 L512.2,31.4 L512.7,32.3 L513.2,33.2 L513.7,34.2 L514.2,34.9 L514.7,35.5 L515.2,35.6 L515.7,35.4 L516.2,34.9 L516.7,34.1 L517.2,33.2 L517.7,32.2 L518.2,31.2 L518.7,30.3 L519.2,29.4 L519.7,28.8 L520.2,28.5 L520.7,28.5 L521.2,28.8 L521.7,29.4 L522.2,30.2 L522.7,31.1 L523.2,32.0 L523.7,32.9 L524.2,33.7 L524.7,34.2 L525.2,34.6 L525.7,34.8 L526.2,34.6 L526.7,34.2 L527.2,33.4 L527.7,32.4 L528.2,31.3 L528.7,30.3 L529.2,29.3 L529.7,28.4 L530.2,27.8 L530.7,27.6 L531.2,27.6 L531.7,28.1 L532.2,28.8 L532.7,29.8 L533.2,30.8 L533.7,31.9 L534.2,32.9 L534.7,33.7 L535.2,34.3 L535.7,34.6 L536.2,34.6 L536.7,34.3 L537.2,33.7 L537.7,32.8 L538.2,31.8 L538.7,30.7 L539.2,29.6 L539.7,28.6 L540.2,28.0 L540.7,27.6 L541.2,27.5 L541.7,27.5 L542.2,28.0 L542.7,28.8 L543.2,29.8 L543.7,30.9 L544.2,32.0 L544.7,33.0 L545.2,33.9 L545.7,34.4 L546.2,34.7 L546.7,34.7 L547.2,34.3 L547.7,33.6 L548.2,32.7 L548.7,31.6 L549.2,30.6 L549.7,29.5 L550.2,28.6 L550.7,27.8 L551.2,27.3 L551.7,27.1 L552.2,27.3 L552.7,27.9 L553.2,28.7 L553.7,29.8 L554.2,30.9 L554.7,32.0 L555.2,33.0 L555.7,33.9 L556.2,34.4 L556.7,34.5 L557.2,34.2 L557.7,33.7 L558.2,33.0 L558.7,32.1 L559.2,30.9 L559.7,29.7 L560.2,28.6 L560.7,27.7 L561.2,27.0 L561.7,26.6 L562.2,26.6 L562.7,26.9 L563.2,27.6 L563.7,28.5 L564.2,29.6 L564.7,30.8 L565.2,32.0 L565.7,32.9 L566.2,33.6 L566.7,34.0 L567.2,34.0 L567.7,33.7 L568.2,33.1 L568.7,32.2 L569.2,31.2 L569.7,29.9 L570.2,28.7 L570.7,27.5 L571.2,26.6 L571.7,26.1 L572.2,26.0 L572.7,26.1 L573.2,26.6 L573.7,27.5 L574.2,28.5 L574.7,29.7 L575.2,30.9 L575.7,32.0 L576.2,32.8 L576.7,33.4 L577.2,33.7 L577.7,33.7 L578.2,33.3 L578.7,32.6 L579.2,31.6 L579.7,30.3 L580.2,29.1 L580.7,27.8 L581.2,26.8 L581.7,26.0 L582.2,25.6 L582.7,25.4 L583.2,25.8 L583.7,26.8 L584.2,28.2 L584.7,29.6 L585.2,30.7 L585.7,31.5 L586.2,32.3 L586.7,32.8 L587.2,33.3 L587.7,33.6 L588.2,34.1 L588.7,34.5 L589.2,34.8 L589.7,35.1 L590.2,35.4 L590.7,35.8 L591.2,36.1 L591.7,36.5 L592.2,36.8 L592.7,37.1 L593.2,37.5 L593.7,37.8 L594.2,38.2 L594.7,38.4 L595.2,38.8 L595.7,39.1 L596.2,39.4 L596.7,39.7 L597.2,40.0 L597.7,40.3 L598.2,40.6 L598.7,40.9 L599.2,41.4 L599.7,41.6 L600.2,41.8 L600.7,42.1 L601.2,42.5 L601.7,42.8 L602.2,43.1 L602.7,43.4 L603.2,43.7 L603.7,44.0 L604.2,44.4 L604.7,44.6 L605.2,44.9 L605.7,45.2 L606.2,45.5 L606.7,45.7 L607.2,46.0 L607.7,46.3 L608.2,46.6 L608.7,47.0 L609.2,47.3 L609.7,47.5 L610.2,47.8 L610.7,48.1 L611.2,48.4 L611.7,48.6 L612.2,48.8 L612.7,49.1 L613.2,49.5 L613.7,49.8 L614.2,50.1 L614.7,50.3 L615.2,50.6 L615.7,50.8 L616.2,51.2 L616.7,51.5 L617.2,51.8 L617.7,52.1 L618.2,52.4 L618.7,52.7 L619.2,52.9 L619.7,53.2 L620.2,53.4 L620.7,53.7 L621.2,53.9 L621.7,54.2 L622.2,54.4 L622.7,54.7 L623.2,54.9 L623.7,55.2 L624.2,55.5 L624.7,55.8 L625.2,56.1 L625.7,56.2 L626.2,56.5 L626.7,56.8 L627.2,57.1 L627.7,57.4 L628.2,57.7 L628.7,58.0 L629.2,58.3 L629.7,58.5 L630.2,58.9 L630.7,59.1 L631.2,59.4 L631.7,59.6 L632.2,59.8 L632.7,60.1 L633.2,60.4 L633.7,60.6 L634.2,60.9 L634.7,61.1 L635.2,61.3 L635.7,61.6 L636.2,61.9 L636.7,62.1 L637.2,62.3 L637.7,62.6 L638.2,62.8 L638.7,63.1 L639.2,63.2 L639.7,63.4 L640.2,63.6 L640.7,63.9 L641.2,64.2" stroke="#f5e02a"/>
<path d="M364.2,132.2 L364.7,132.3 L365.2,132.4 L365.7,132.4 L366.2,132.5 L366.7,132.5 L367.2,132.5 L367.7,132.5 L368.2,132.5 L368.7,132.5 L369.2,132.5 L369.7,132.0 L370.2,130.9 L370.7,129.3 L371.2,127.7 L371.7,126.1 L372.2,124.6 L372.7,123.0 L373.2,121.4 L373.7,119.7 L374.2,118.1 L374.7,116.6 L375.2,115.1 L375.7,113.6 L376.2,112.0 L376.7,110.7 L377.2,109.3 L377.7,107.9 L378.2,106.4 L378.7,105.1 L379.2,103.7 L379.7,102.4 L380.2,100.9 L380.7,99.6 L381.2,98.3 L381.7,97.0 L382.2,95.7 L382.7,94.4 L383.2,93.2 L383.7,91.9 L384.2,90.7 L384.7,89.4 L385.2,88.2 L385.7,86.9 L386.2,85.7 L386.7,84.5 L387.2,83.3 L387.7,82.2 L388.2,81.1 L388.7,80.0 L389.2,78.9 L389.7,78.0 L390.2,76.9 L390.7,75.8 L391.2,74.7 L391.7,73.6 L392.2,72.5 L392.7,71.4 L393.2,70.3 L393.7,69.3 L394.2,68.2 L394.7,67.1 L395.2,66.2 L395.7,65.1 L396.2,64.2 L396.7,63.2 L397.2,62.2 L397.7,61.2 L398.2,60.1 L398.7,59.2 L399.2,58.2 L399.7,57.3 L400.2,56.5 L400.7,55.6 L401.2,54.8 L401.7,53.9 L402.2,53.0 L402.7,52.0 L403.2,51.1 L403.7,50.1 L404.2,48.9 L404.7,47.6 L405.2,46.4 L405.7,45.6 L406.2,44.8 L406.7,44.1 L407.2,43.8 L407.7,43.6 L408.2,43.8 L408.7,43.8 L409.2,44.1 L409.7,44.5 L410.2,45.1 L410.7,45.6 L411.2,45.9 L411.7,46.2 L412.2,46.7 L412.7,47.1 L413.2,47.6 L413.7,47.8 L414.2,48.1 L414.7,47.8 L415.2,47.4 L415.7,46.3 L416.2,45.3 L416.7,44.3 L417.2,43.4 L417.7,42.4 L418.2,41.0 L418.7,39.4 L419.2,38.1 L419.7,37.3 L420.2,37.4 L420.7,38.2 L421.2,39.2 L421.7,40.4 L422.2,41.1 L422.7,41.7 L423.2,42.0 L423.7,42.4 L424.2,42.9 L424.7,43.4 L425.2,43.7 L425.7,44.0 L426.2,44.1 L426.7,44.3 L427.2,44.6 L427.7,44.8 L428.2,45.0 L428.7,45.2 L429.2,45.4 L429.7,45.8 L430.2,46.1 L430.7,46.4 L431.2,46.5 L431.7,46.6 L432.2,46.7 L432.7,46.9 L433.2,46.9 L433.7,46.8 L434.2,46.6 L434.7,46.6 L435.2,46.5 L435.7,46.8 L436.2,47.0 L436.7,47.5 L437.2,47.7 L437.7,47.9 L438.2,48.0 L438.7,48.0 L439.2,48.1 L439.7,48.2 L440.2,48.1 L440.7,48.0 L441.2,47.8 L441.7,47.5 L442.2,47.1 L442.7,46.8 L443.2,46.8 L443.7,46.8 L444.2,47.0 L444.7,47.1 L445.2,47.2 L445.7,47.1 L446.2,46.9 L446.7,46.9 L447.2,46.8 L447.7,47.0 L448.2,47.0 L448.7,47.1 L449.2,47.2 L449.7,47.5 L450.2,47.6 L450.7,47.7 L451.2,47.7 L451.7,47.8 L452.2,47.6 L452.7,47.7 L453.2,47.7 L453.7,47.8 L454.2,47.8 L454.7,47.7 L455.2,47.3 L455.7,46.6 L456.2,45.6 L456.7,44.4 L457.2,42.9 L457.7,41.9 L458.2,41.4 L458.7,41.4 L459.2,41.5 L459.7,41.7 L460.2,42.2 L460.7,42.7 L461.2,43.3 L461.7,43.9 L462.2,44.3 L462.7,44.6 L463.2,44.7 L463.7,44.6 L464.2,44.3 L464.7,43.7 L465.2,43.0 L465.7,42.1 L466.2,41.1 L466.7,40.2 L467.2,39.4 L467.7,38.7 L468.2,38.1 L468.7,37.8 L469.2,37.8 L469.7,38.0 L470.2,38.3 L470.7,38.8 L471.2,39.4 L471.7,40.0 L472.2,40.5 L472.7,41.0 L473.2,41.4 L473.7,41.5 L474.2,41.4 L474.7,40.9 L475.2,40.3 L475.7,39.3 L476.2,38.4 L476.7,37.3 L477.2,36.3 L477.7,35.5 L478.2,34.9 L478.7,34.5 L479.2,34.3 L479.7,34.5 L480.2,34.7 L480.7,35.2 L481.2,35.8 L481.7,36.4 L482.2,36.9 L482.7,37.4 L483.2,37.8 L483.7,37.8 L484.2,37.8 L484.7,37.4 L485.2,37.0 L485.7,36.1 L486.2,35.2 L486.7,34.1 L487.2,33.1 L487.7,32.1 L488.2,31.2 L488.7,30.5 L489.2,30.1 L489.7,29.8 L490.2,30.0 L490.7,30.3 L491.2,30.9 L491.7,31.7 L492.2,32.5 L492.7,33.4 L493.2,34.1 L493.7,34.7 L494.2,35.0 L494.7,34.9 L495.2,34.6 L495.7,34.1 L496.2,33.4 L496.7,32.3 L497.2,31.2 L497.7,30.1 L498.2,29.1 L498.7,28.4 L499.2,27.9 L499.7,27.6 L500.2,27.6 L500.7,27.9 L501.2,28.6 L501.7,29.6 L502.2,30.6 L502.7,31.7 L503.2,32.7 L503.7,33.6 L504.2,34.3 L504.7,34.5 L505.2,34.5 L505.7,34.2 L506.2,33.6 L506.7,32.6 L507.2,31.5 L507.7,30.3 L508.2,29.1 L508.7,28.0 L509.2,27.1 L509.7,26.5 L510.2,26.2 L510.7,26.4 L511.2,27.0 L511.7,27.8 L512.2,28.7 L512.7,29.8 L513.2,31.0 L513.7,32.1 L514.2,32.9 L514.7,33.5 L515.2,33.5 L515.7,33.3 L516.2,32.7 L516.7,31.9 L517.2,30.8 L517.7,29.6 L518.2,28.2 L518.7,27.0 L519.2,25.7 L519.7,24.9 L520.2,24.4 L520.7,24.2 L521.2,24.5 L521.7,25.1 L522.2,26.2 L522.7,27.4 L523.2,28.7 L523.7,29.9 L524.2,30.9 L524.7,31.6 L525.2,32.2 L525.7,32.3 L526.2,32.1 L526.7,31.4 L527.2,30.6 L527.7,29.3 L528.2,28.0 L528.7,26.6 L529.2,25.3 L529.7,24.2 L530.2,23.4 L530.7,23.0 L531.2,23.0 L531.7,23.4 L532.2,24.2 L532.7,25.2 L533.2,26.4 L533.7,27.6 L534.2,28.8 L534.7,29.9 L535.2,30.6 L535.7,31.0 L536.2,31.0 L536.7,30.7 L537.2,29.9 L537.7,28.8 L538.2,27.4 L538.7,26.0 L539.2,24.6 L539.7,23.2 L540.2,22.2 L540.7,21.7 L541.2,21.5 L541.7,21.8 L542.2,22.4 L542.7,23.3 L543.2,24.5 L543.7,25.8 L544.2,27.2 L544.7,28.5 L545.2,29.6 L545.7,30.3 L546.2,30.6 L546.7,30.4 L547.2,29.8 L547.7,28.9 L548.2,27.7 L548.7,26.3 L549.2,24.7 L549.7,23.4 L550.2,22.3 L550.7,21.4 L551.2,20.9 L551.7,20.7 L552.2,21.0 L552.7,21.6 L553.2,22.6 L553.7,23.8 L554.2,25.1 L554.7,26.6 L555.2,27.9 L555.7,28.9 L556.2,29.6 L556.7,29.7 L557.2,29.5 L557.7,28.8 L558.2,27.9 L558.7,26.6 L559.2,25.2 L559.7,23.7 L560.2,22.4 L560.7,21.3 L561.2,20.5 L561.7,20.1 L562.2,20.1 L562.7,20.6 L563.2,21.5 L563.7,22.6 L564.2,23.8 L564.7,25.2 L565.2,26.5 L565.7,27.5 L566.2,28.3 L566.7,28.8 L567.2,28.9 L567.7,28.5 L568.2,27.6 L568.7,26.4 L569.2,25.1 L569.7,23.6 L570.2,22.2 L570.7,20.9 L571.2,19.9 L571.7,19.2 L572.2,18.8 L572.7,18.9 L573.2,19.5 L573.7,20.4 L574.2,21.8 L574.7,23.1 L575.2,24.6 L575.7,26.0 L576.2,27.1 L576.7,28.0 L577.2,28.3 L577.7,28.3 L578.2,27.8 L578.7,26.9 L579.2,25.7 L579.7,24.3 L580.2,22.7 L580.7,21.3 L581.2,20.1 L581.7,19.2 L582.2,18.6 L582.7,18.5 L583.2,19.0 L583.7,20.1 L584.2,21.7 L584.7,23.3 L585.2,24.6 L585.7,25.5 L586.2,26.3 L586.7,27.0 L587.2,27.6 L587.7,28.2 L588.2,28.8 L588.7,29.3 L589.2,29.6 L589.7,30.0 L590.2,30.3 L590.7,30.7 L591.2,31.0 L591.7,31.4 L592.2,31.8 L592.7,32.2 L593.2,32.6 L593.7,33.0 L594.2,33.4 L594.7,33.8 L595.2,34.1 L595.7,34.4 L596.2,34.8 L596.7,35.2 L597.2,35.6 L597.7,35.8 L598.2,36.1 L598.7,36.5 L599.2,36.8 L599.7,37.2 L600.2,37.7 L600.7,38.0 L601.2,38.4 L601.7,38.7 L602.2,39.0 L602.7,39.4 L603.2,39.7 L603.7,40.1 L604.2,40.4 L604.7,40.9 L605.2,41.1 L605.7,41.4 L606.2,41.7 L606.7,42.1 L607.2,42.4 L607.7,42.7 L608.2,43.0 L608.7,43.4 L609.2,43.8 L609.7,44.1 L610.2,44.5 L610.7,44.8 L611.2,45.1 L611.7,45.5 L612.2,45.8 L612.7,46.2 L613.2,46.6 L613.7,46.9 L614.2,47.2 L614.7,47.5 L615.2,47.7 L615.7,48.0 L616.2,48.4 L616.7,48.8 L617.2,49.1 L617.7,49.5 L618.2,49.7 L618.7,50.1 L619.2,50.4 L619.7,50.8 L620.2,51.0 L620.7,51.3 L621.2,51.6 L621.7,51.9 L622.2,52.2 L622.7,52.5 L623.2,52.8 L623.7,53.1 L624.2,53.4 L624.7,53.7 L625.2,53.9 L625.7,54.2 L626.2,54.5 L626.7,54.9 L627.2,55.2 L627.7,55.5 L628.2,55.8 L628.7,56.1 L629.2,56.4 L629.7,56.7 L630.2,57.1 L630.7,57.4 L631.2,57.6 L631.7,57.9 L632.2,58.2 L632.7,58.5 L633.2,58.8 L633.7,59.1 L634.2,59.3 L634.7,59.6 L635.2,59.8 L635.7,60.2 L636.2,60.5 L636.7,60.8 L637.2,61.0 L637.7,61.2 L638.2,61.5 L638.7,61.8 L639.2,62.2 L639.7,62.4 L640.2,62.7 L640.7,63.0 L641.2,63.2" stroke="#33f533"/>
<path d="M364.2,132.3 L364.7,132.4 L365.2,132.4 L365.7,132.4 L366.2,132.4 L366.7,132.4 L367.2,132.5 L367.7,132.5 L368.2,132.5 L368.7,132.5 L369.2,132.5 L369.7,131.9 L370.2,130.9 L370.7,129.4 L371.2,127.9 L371.7,126.5 L372.2,125.0 L372.7,123.6 L373.2,122.2 L373.7,120.8 L374.2,119.4 L374.7,118.0 L375.2,116.6 L375.7,115.2 L376.2,113.9 L376.7,112.5 L377.2,111.1 L377.7,109.8 L378.2,108.4 L378.7,107.3 L379.2,106.1 L379.7,105.0 L380.2,103.8 L380.7,102.7 L381.2,101.5 L381.7,100.3 L382.2,99.2 L382.7,98.0 L383.2,96.8 L383.7,95.7 L384.2,94.6 L384.7,93.6 L385.2,92.5 L385.7,91.4 L386.2,90.5 L386.7,89.5 L387.2,88.4 L387.7,87.3 L388.2,86.3 L388.7,85.3 L389.2,84.3 L389.7,83.4 L390.2,82.4 L390.7,81.5 L391.2,80.5 L391.7,79.7 L392.2,78.9 L392.7,78.1 L393.2,77.3 L393.7,76.4 L394.2,75.5 L394.7,74.6 L395.2,73.8 L395.7,73.0 L396.2,72.1 L396.7,71.3 L397.2,70.4 L397.7,69.4 L398.2,68.6 L398.7,67.8 L399.2,67.1 L399.7,66.3 L400.2,65.7 L400.7,65.0 L401.2,64.4 L401.7,63.7 L402.2,62.9 L402.7,62.1 L403.2,61.2 L403.7,60.6 L404.2,59.6 L404.7,58.8 L405.2,58.0 L405.7,57.7 L406.2,57.4 L406.7,57.0 L407.2,56.6 L407.7,56.2 L408.2,55.7 L408.7,55.4 L409.2,55.2 L409.7,55.4 L410.2,55.4 L410.7,55.4 L411.2,55.5 L411.7,55.6 L412.2,56.2 L412.7,56.7 L413.2,57.1 L413.7,57.1 L414.2,57.0 L414.7,56.8 L415.2,56.7 L415.7,56.6 L416.2,56.2 L416.7,55.6 L417.2,55.0 L417.7,54.3 L418.2,53.6 L418.7,52.6 L419.2,51.8 L419.7,51.0 L420.2,50.5 L420.7,50.6 L421.2,51.2 L421.7,51.8 L422.2,52.4 L422.7,52.7 L423.2,53.1 L423.7,53.0 L424.2,53.4 L424.7,53.7 L425.2,54.0 L425.7,53.9 L426.2,54.2 L426.7,54.5 L427.2,54.9 L427.7,55.3 L428.2,55.6 L428.7,56.0 L429.2,56.2 L429.7,56.5 L430.2,56.8 L430.7,57.0 L431.2,57.0 L431.7,57.0 L432.2,57.1 L432.7,57.2 L433.2,57.1 L433.7,57.1 L434.2,57.2 L434.7,57.2 L435.2,57.0 L435.7,56.7 L436.2,56.4 L436.7,56.3 L437.2,56.1 L437.7,56.1 L438.2,56.0 L438.7,56.2 L439.2,56.3 L439.7,56.4 L440.2,56.6 L440.7,56.8 L441.2,56.8 L441.7,56.8 L442.2,56.7 L442.7,56.7 L443.2,56.7 L443.7,56.7 L444.2,56.9 L444.7,57.3 L445.2,57.8 L445.7,58.2 L446.2,58.2 L446.7,58.2 L447.2,58.2 L447.7,58.3 L448.2,58.4 L448.7,58.5 L449.2,58.6 L449.7,58.7 L450.2,58.5 L450.7,58.7 L451.2,58.4 L451.7,58.5 L452.2,58.3 L452.7,58.4 L453.2,58.3 L453.7,58.1 L454.2,58.1 L454.7,58.0 L455.2,58.0 L455.7,57.7 L456.2,57.4 L456.7,56.7 L457.2,55.9 L457.7,55.0 L458.2,54.6 L458.7,54.2 L459.2,54.2 L459.7,54.3 L460.2,54.6 L460.7,54.8 L461.2,55.2 L461.7,55.4 L462.2,55.8 L462.7,55.9 L463.2,56.0 L463.7,55.8 L464.2,55.6 L464.7,55.3 L465.2,54.8 L465.7,54.1 L466.2,53.4 L466.7,52.8 L467.2,52.1 L467.7,51.5 L468.2,51.1 L468.7,50.8 L469.2,50.8 L469.7,50.8 L470.2,51.1 L470.7,51.4 L471.2,51.9 L471.7,52.4 L472.2,52.9 L472.7,53.4 L473.2,53.7 L473.7,53.8 L474.2,53.6 L474.7,53.2 L475.2,52.7 L475.7,52.0 L476.2,51.3 L476.7,50.5 L477.2,49.8 L477.7,49.2 L478.2,48.6 L478.7,48.3 L479.2,48.0 L479.7,48.0 L480.2,48.2 L480.7,48.7 L481.2,49.2 L481.7,49.8 L482.2,50.3 L482.7,50.8 L483.2,51.2 L483.7,51.5 L484.2,51.5 L484.7,51.3 L485.2,50.9 L485.7,50.3 L486.2,49.5 L486.7,48.6 L487.2,47.7 L487.7,46.9 L488.2,46.2 L488.7,45.7 L489.2,45.4 L489.7,45.3 L490.2,45.5 L490.7,45.7 L491.2,46.1 L491.7,46.6 L492.2,47.2 L492.7,47.9 L493.2,48.5 L493.7,48.8 L494.2,48.9 L494.7,48.8 L495.2,48.5 L495.7,47.9 L496.2,47.2 L496.7,46.4 L497.2,45.5 L497.7,44.6 L498.2,43.8 L498.7,43.0 L499.2,42.5 L499.7,42.2 L500.2,42.1 L500.7,42.3 L501.2,42.8 L501.7,43.4 L502.2,44.1 L502.7,44.7 L503.2,45.4 L503.7,46.0 L504.2,46.4 L504.7,46.6 L505.2,46.7 L505.7,46.4 L506.2,45.9 L506.7,45.2 L507.2,44.3 L507.7,43.3 L508.2,42.5 L508.7,41.6 L509.2,40.9 L509.7,40.4 L510.2,40.2 L510.7,40.3 L511.2,40.7 L511.7,41.3 L512.2,41.9 L512.7,42.7 L513.2,43.5 L513.7,44.3 L514.2,44.8 L514.7,45.2 L515.2,45.2 L515.7,45.1 L516.2,44.6 L516.7,43.9 L517.2,43.0 L517.7,42.1 L518.2,41.1 L518.7,40.2 L519.2,39.3 L519.7,38.7 L520.2,38.3 L520.7,38.2 L521.2,38.4 L521.7,38.9 L522.2,39.6 L522.7,40.6 L523.2,41.4 L523.7,42.3 L524.2,43.1 L524.7,43.7 L525.2,44.0 L525.7,44.0 L526.2,43.8 L526.7,43.3 L527.2,42.6 L527.7,41.6 L528.2,40.6 L528.7,39.6 L529.2,38.6 L529.7,37.9 L530.2,37.2 L530.7,36.9 L531.2,36.9 L531.7,37.2 L532.2,37.7 L532.7,38.5 L533.2,39.5 L533.7,40.5 L534.2,41.4 L534.7,42.1 L535.2,42.7 L535.7,43.0 L536.2,42.9 L536.7,42.6 L537.2,42.1 L537.7,41.4 L538.2,40.5 L538.7,39.5 L539.2,38.5 L539.7,37.7 L540.2,37.1 L540.7,36.7 L541.2,36.5 L541.7,36.7 L542.2,37.2 L542.7,37.9 L543.2,38.8 L543.7,39.7 L544.2,40.6 L544.7,41.5 L545.2,42.3 L545.7,42.8 L546.2,43.0 L546.7,42.9 L547.2,42.5 L547.7,41.7 L548.2,40.9 L548.7,39.8 L549.2,38.7 L549.7,37.7 L550.2,36.8 L550.7,36.2 L551.2,35.8 L551.7,35.8 L552.2,36.0 L552.7,36.6 L553.2,37.4 L553.7,38.3 L554.2,39.4 L554.7,40.3 L555.2,41.2 L555.7,41.9 L556.2,42.3 L556.7,42.5 L557.2,42.4 L557.7,42.0 L558.2,41.2 L558.7,40.2 L559.2,39.1 L559.7,38.1 L560.2,37.2 L560.7,36.4 L561.2,35.6 L561.7,35.3 L562.2,35.2 L562.7,35.5 L563.2,36.1 L563.7,36.8 L564.2,37.8 L564.7,38.8 L565.2,39.7 L565.7,40.6 L566.2,41.2 L566.7,41.4 L567.2,41.3 L567.7,41.0 L568.2,40.4 L568.7,39.6 L569.2,38.7 L569.7,37.7 L570.2,36.7 L570.7,35.8 L571.2,35.0 L571.7,34.5 L572.2,34.4 L572.7,34.5 L573.2,34.9 L573.7,35.5 L574.2,36.2 L574.7,37.2 L575.2,38.2 L575.7,39.1 L576.2,39.9 L576.7,40.4 L577.2,40.7 L577.7,40.7 L578.2,40.4 L578.7,39.8 L579.2,39.0 L579.7,37.9 L580.2,36.8 L580.7,35.6 L581.2,34.7 L581.7,34.0 L582.2,33.4 L582.7,33.2 L583.2,33.4 L583.7,34.3 L584.2,35.4 L584.7,36.7 L585.2,37.6 L585.7,38.3 L586.2,39.0 L586.7,39.5 L587.2,40.0 L587.7,40.4 L588.2,40.7 L588.7,41.1 L589.2,41.4 L589.7,41.6 L590.2,41.9 L590.7,42.2 L591.2,42.5 L591.7,42.8 L592.2,43.0 L592.7,43.3 L593.2,43.6 L593.7,43.9 L594.2,44.2 L594.7,44.5 L595.2,44.8 L595.7,45.2 L596.2,45.4 L596.7,45.7 L597.2,45.9 L597.7,46.1 L598.2,46.3 L598.7,46.6 L599.2,46.9 L599.7,47.2 L600.2,47.4 L600.7,47.6 L601.2,47.9 L601.7,48.2 L602.2,48.5 L602.7,48.7 L603.2,49.0 L603.7,49.1 L604.2,49.4 L604.7,49.6 L605.2,49.8 L605.7,50.0 L606.2,50.3 L606.7,50.6 L607.2,50.9 L607.7,51.2 L608.2,51.6 L608.7,51.9 L609.2,52.1 L609.7,52.4 L610.2,52.6 L610.7,52.9 L611.2,53.1 L611.7,53.3 L612.2,53.6 L612.7,53.8 L613.2,54.0 L613.7,54.2 L614.2,54.4 L614.7,54.6 L615.2,54.7 L615.7,54.9 L616.2,55.2 L616.7,55.4 L617.2,55.7 L617.7,55.9 L618.2,56.2 L618.7,56.3 L619.2,56.6 L619.7,56.9 L620.2,57.3 L620.7,57.5 L621.2,57.7 L621.7,57.9 L622.2,58.2 L622.7,58.3 L623.2,58.5 L623.7,58.6 L624.2,58.8 L624.7,59.1 L625.2,59.3 L625.7,59.7 L626.2,59.9 L626.7,60.2 L627.2,60.4 L627.7,60.5 L628.2,60.9 L628.7,61.1 L629.2,61.4 L629.7,61.6 L630.2,61.7 L630.7,61.9 L631.2,62.0 L631.7,62.3 L632.2,62.6 L632.7,62.8 L633.2,63.0 L633.7,63.2 L634.2,63.4 L634.7,63.7 L635.2,64.1 L635.7,64.3 L636.2,64.4 L636.7,64.5 L637.2,64.6 L637.7,64.8 L638.2,65.0 L638.7,65.3 L639.2,65.5 L639.7,65.8 L640.2,66.1 L640.7,66.5 L641.2,66.8" stroke="#1b7d1b"/>
<path d="M364.2,131.5 L364.7,131.4 L365.2,131.4 L365.7,131.3 L366.2,131.2 L366.7,131.2 L367.2,131.3 L367.7,131.4 L368.2,131.5 L368.7,131.6 L369.2,131.6 L369.7,131.1 L370.2,130.1 L370.7,128.5 L371.2,126.8 L371.7,125.2 L372.2,123.6 L372.7,122.0 L373.2,120.4 L373.7,118.9 L374.2,117.3 L374.7,115.7 L375.2,114.2 L375.7,112.6 L376.2,110.9 L376.7,109.3 L377.2,107.7 L377.7,106.2 L378.2,104.7 L378.7,103.3 L379.2,101.9 L379.7,100.5 L380.2,99.3 L380.7,97.9 L381.2,96.7 L381.7,95.4 L382.2,94.2 L382.7,93.0 L383.2,91.8 L383.7,90.5 L384.2,89.2 L384.7,87.9 L385.2,86.6 L385.7,85.4 L386.2,84.2 L386.7,83.0 L387.2,81.8 L387.7,80.7 L388.2,79.5 L388.7,78.4 L389.2,77.3 L389.7,76.2 L390.2,75.1 L390.7,74.0 L391.2,72.9 L391.7,71.9 L392.2,70.9 L392.7,70.0 L393.2,69.0 L393.7,68.0 L394.2,66.9 L394.7,65.9 L395.2,65.0 L395.7,64.0 L396.2,63.0 L396.7,62.0 L397.2,61.0 L397.7,60.1 L398.2,59.2 L398.7,58.3 L399.2,57.4 L399.7,56.4 L400.2,55.4 L400.7,54.6 L401.2,53.8 L401.7,53.0 L402.2,52.1 L402.7,51.4 L403.2,50.8 L403.7,50.2 L404.2,49.7 L404.7,49.3 L405.2,48.7 L405.7,48.3 L406.2,47.9 L406.7,47.7 L407.2,47.4 L407.7,47.1 L408.2,47.0 L408.7,46.9 L409.2,46.7 L409.7,46.8 L410.2,46.7 L410.7,47.1 L411.2,47.2 L411.7,47.6 L412.2,47.7 L412.7,48.0 L413.2,48.4 L413.7,48.7 L414.2,48.9 L414.7,48.6 L415.2,48.2 L415.7,47.6 L416.2,46.6 L416.7,45.6 L417.2,44.6 L417.7,43.6 L418.2,42.5 L418.7,41.2 L419.2,40.0 L419.7,39.1 L420.2,38.8 L420.7,39.2 L421.2,40.0 L421.7,41.0 L422.2,42.1 L422.7,43.1 L423.2,43.9 L423.7,44.6 L424.2,45.2 L424.7,45.8 L425.2,46.3 L425.7,46.7 L426.2,46.5 L426.7,45.9 L427.2,45.1 L427.7,44.3 L428.2,43.4 L428.7,42.2 L429.2,41.0 L429.7,39.9 L430.2,38.8 L430.7,38.0 L431.2,37.3 L431.7,36.7 L432.2,35.8 L432.7,35.1 L433.2,34.1 L433.7,33.3 L434.2,32.2 L434.7,31.9 L435.2,32.1 L435.7,33.0 L436.2,33.9 L436.7,34.7 L437.2,35.0 L437.7,34.8 L438.2,34.2 L438.7,33.8 L439.2,33.7 L439.7,34.4 L440.2,35.4 L440.7,36.6 L441.2,37.6 L441.7,38.6 L442.2,39.4 L442.7,40.0 L443.2,40.4 L443.7,40.4 L444.2,40.2 L444.7,40.2 L445.2,40.4 L445.7,40.8 L446.2,41.4 L446.7,42.1 L447.2,43.0 L447.7,43.8 L448.2,44.6 L448.7,45.4 L449.2,46.2 L449.7,47.0 L450.2,47.6 L450.7,48.2 L451.2,48.8 L451.7,49.3 L452.2,49.8 L452.7,49.9 L453.2,50.4 L453.7,50.9 L454.2,51.4 L454.7,51.9 L455.2,52.3 L455.7,52.6 L456.2,52.9 L456.7,52.9 L457.2,52.9 L457.7,52.8 L458.2,52.8 L458.7,53.0 L459.2,53.0 L459.7,53.2 L460.2,53.4 L460.7,53.8 L461.2,54.2 L461.7,54.6 L462.2,55.1 L462.7,55.5 L463.2,55.9 L463.7,56.1 L464.2,56.2 L464.7,56.1 L465.2,55.8 L465.7,55.5 L466.2,55.0 L466.7,54.6 L467.2,54.2 L467.7,53.9 L468.2,53.8 L468.7,53.7 L469.2,53.9 L469.7,54.2 L470.2,54.6 L470.7,55.1 L471.2,55.7 L471.7,56.4 L472.2,57.1 L472.7,57.7 L473.2,58.3 L473.7,58.6 L474.2,58.8 L474.7,58.7 L475.2,58.3 L475.7,57.7 L476.2,56.9 L476.7,56.2 L477.2,55.3 L477.7,54.6 L478.2,54.0 L478.7,53.8 L479.2,53.8 L479.7,54.1 L480.2,54.6 L480.7,55.3 L481.2,56.2 L481.7,57.1 L482.2,58.0 L482.7,58.7 L483.2,59.4 L483.7,59.8 L484.2,60.0 L484.7,60.0 L485.2,59.7 L485.7,59.3 L486.2,58.6 L486.7,57.9 L487.2,57.2 L487.7,56.5 L488.2,55.9 L488.7,55.5 L489.2,55.2 L489.7,55.3 L490.2,55.5 L490.7,55.9 L491.2,56.5 L491.7,57.2 L492.2,58.0 L492.7,58.7 L493.2,59.4 L493.7,60.0 L494.2,60.3 L494.7,60.4 L495.2,60.3 L495.7,60.0 L496.2,59.5 L496.7,58.7 L497.2,57.8 L497.7,56.8 L498.2,55.9 L498.7,55.1 L499.2,54.7 L499.7,54.3 L500.2,54.3 L500.7,54.6 L501.2,55.2 L501.7,55.9 L502.2,56.7 L502.7,57.6 L503.2,58.4 L503.7,59.1 L504.2,59.5 L504.7,59.8 L505.2,59.8 L505.7,59.6 L506.2,59.2 L506.7,58.7 L507.2,58.0 L507.7,57.2 L508.2,56.3 L508.7,55.6 L509.2,55.0 L509.7,54.8 L510.2,54.7 L510.7,55.0 L511.2,55.4 L511.7,56.1 L512.2,57.0 L512.7,57.9 L513.2,58.8 L513.7,59.5 L514.2,60.1 L514.7,60.6 L515.2,60.8 L515.7,60.7 L516.2,60.4 L516.7,59.9 L517.2,59.3 L517.7,58.4 L518.2,57.5 L518.7,56.7 L519.2,56.0 L519.7,55.5 L520.2,55.3 L520.7,55.3 L521.2,55.6 L521.7,56.1 L522.2,56.8 L522.7,57.7 L523.2,58.6 L523.7,59.4 L524.2,60.2 L524.7,60.9 L525.2,61.3 L525.7,61.5 L526.2,61.4 L526.7,61.1 L527.2,60.5 L527.7,59.8 L528.2,58.8 L528.7,58.0 L529.2,57.3 L529.7,56.8 L530.2,56.4 L530.7,56.3 L531.2,56.3 L531.7,56.6 L532.2,57.1 L532.7,57.9 L533.2,58.8 L533.7,59.7 L534.2,60.6 L534.7,61.3 L535.2,62.0 L535.7,62.3 L536.2,62.4 L536.7,62.1 L537.2,61.6 L537.7,60.9 L538.2,60.0 L538.7,59.1 L539.2,58.2 L539.7,57.4 L540.2,56.8 L540.7,56.3 L541.2,56.1 L541.7,56.2 L542.2,56.6 L542.7,57.4 L543.2,58.3 L543.7,59.3 L544.2,60.2 L544.7,61.0 L545.2,61.7 L545.7,62.1 L546.2,62.4 L546.7,62.3 L547.2,62.0 L547.7,61.5 L548.2,60.9 L548.7,60.0 L549.2,59.1 L549.7,58.2 L550.2,57.5 L550.7,57.0 L551.2,56.6 L551.7,56.6 L552.2,56.8 L552.7,57.3 L553.2,58.0 L553.7,58.8 L554.2,59.8 L554.7,60.8 L555.2,61.6 L555.7,62.3 L556.2,62.7 L556.7,63.0 L557.2,62.9 L557.7,62.5 L558.2,62.0 L558.7,61.2 L559.2,60.3 L559.7,59.3 L560.2,58.4 L560.7,57.7 L561.2,57.1 L561.7,56.8 L562.2,56.8 L562.7,57.0 L563.2,57.7 L563.7,58.4 L564.2,59.4 L564.7,60.4 L565.2,61.4 L565.7,62.2 L566.2,62.9 L566.7,63.2 L567.2,63.3 L567.7,63.1 L568.2,62.7 L568.7,62.0 L569.2,61.2 L569.7,60.2 L570.2,59.3 L570.7,58.4 L571.2,57.7 L571.7,57.1 L572.2,56.8 L572.7,56.8 L573.2,57.2 L573.7,57.8 L574.2,58.6 L574.7,59.6 L575.2,60.6 L575.7,61.6 L576.2,62.4 L576.7,63.0 L577.2,63.3 L577.7,63.4 L578.2,63.2 L578.7,62.6 L579.2,61.7 L579.7,60.8 L580.2,59.7 L580.7,58.8 L581.2,57.9 L581.7,57.2 L582.2,56.8 L582.7,56.6 L583.2,58.0 L583.7,59.3 L584.2,60.5 L584.7,60.3 L585.2,60.2 L585.7,60.0 L586.2,59.9 L586.7,59.8 L587.2,59.8 L587.7,59.8 L588.2,59.7 L588.7,59.8 L589.2,59.7 L589.7,59.6 L590.2,59.5 L590.7,59.5 L591.2,59.5 L591.7,59.3 L592.2,59.2 L592.7,59.2 L593.2,59.4 L593.7,59.4 L594.2,59.4 L594.7,59.3 L595.2,59.5 L595.7,59.6 L596.2,59.8 L596.7,59.8 L597.2,59.9 L597.7,59.8 L598.2,59.8 L598.7,59.8 L599.2,59.8 L599.7,59.7 L600.2,59.6 L600.7,59.7 L601.2,59.8 L601.7,59.9 L602.2,60.0 L602.7,60.1 L603.2,60.3 L603.7,60.4 L604.2,60.5 L604.7,60.6 L605.2,60.8 L605.7,60.8 L606.2,60.9 L606.7,60.9 L607.2,60.8 L607.7,60.8 L608.2,60.9 L608.7,61.0 L609.2,61.0 L609.7,61.1 L610.2,61.3 L610.7,61.4 L611.2,61.5 L611.7,61.6 L612.2,61.8 L612.7,61.9 L613.2,62.0 L613.7,62.0 L614.2,62.1 L614.7,62.1 L615.2,62.2 L615.7,62.3 L616.2,62.5 L616.7,62.5 L617.2,62.7 L617.7,62.8 L618.2,62.9 L618.7,62.9 L619.2,63.1 L619.7,63.2 L620.2,63.3 L620.7,63.3 L621.2,63.4 L621.7,63.6 L622.2,63.8 L622.7,63.8 L623.2,64.0 L623.7,64.1 L624.2,64.3 L624.7,64.3 L625.2,64.4 L625.7,64.6 L626.2,64.7 L626.7,64.8 L627.2,64.9 L627.7,65.1 L628.2,65.2 L628.7,65.3 L629.2,65.5 L629.7,65.6 L630.2,65.7 L630.7,65.8 L631.2,65.9 L631.7,66.0 L632.2,66.2 L632.7,66.4 L633.2,66.4 L633.7,66.4 L634.2,66.4 L634.7,66.4 L635.2,66.6 L635.7,66.6 L636.2,66.7 L636.7,66.7 L637.2,66.9 L637.7,67.1 L638.2,67.2 L638.7,67.4 L639.2,67.5 L639.7,67.6 L640.2,67.7 L640.7,67.8 L641.2,68.0" stroke="#1212ff"/>
<path d="M364.2,132.5 L364.7,132.5 L365.2,132.6 L365.7,132.5 L366.2,132.6 L366.7,132.4 L367.2,132.4 L367.7,132.3 L368.2,132.3 L368.7,132.3 L369.2,132.3 L369.7,131.7 L370.2,130.7 L370.7,129.1 L371.2,127.5 L371.7,125.8 L372.2,124.2 L372.7,122.6 L373.2,121.1 L373.7,119.5 L374.2,118.0 L374.7,116.5 L375.2,114.9 L375.7,113.3 L376.2,111.7 L376.7,110.3 L377.2,108.8 L377.7,107.3 L378.2,105.8 L378.7,104.4 L379.2,102.9 L379.7,101.6 L380.2,100.2 L380.7,98.9 L381.2,97.5 L381.7,96.1 L382.2,94.7 L382.7,93.4 L383.2,92.0 L383.7,90.6 L384.2,89.4 L384.7,88.2 L385.2,87.0 L385.7,85.7 L386.2,84.5 L386.7,83.4 L387.2,82.3 L387.7,81.0 L388.2,79.8 L388.7,78.6 L389.2,77.5 L389.7,76.4 L390.2,75.2 L390.7,74.2 L391.2,73.1 L391.7,72.0 L392.2,70.9 L392.7,69.7 L393.2,68.7 L393.7,67.7 L394.2,66.7 L394.7,65.6 L395.2,64.6 L395.7,63.5 L396.2,62.6 L396.7,61.6 L397.2,60.6 L397.7,59.6 L398.2,58.7 L398.7,57.7 L399.2,56.8 L399.7,55.8 L400.2,55.0 L400.7,54.1 L401.2,53.4 L401.7,52.6 L402.2,51.8 L402.7,51.0 L403.2,50.2 L403.7,49.6 L404.2,48.7 L404.7,48.1 L405.2,47.0 L405.7,46.3 L406.2,45.3 L406.7,44.7 L407.2,44.1 L407.7,43.8 L408.2,43.7 L408.7,43.9 L409.2,44.2 L409.7,44.6 L410.2,45.2 L410.7,45.3 L411.2,45.6 L411.7,45.6 L412.2,46.1 L412.7,46.5 L413.2,47.2 L413.7,47.7 L414.2,47.7 L414.7,47.5 L415.2,46.9 L415.7,46.4 L416.2,45.5 L416.7,44.5 L417.2,43.1 L417.7,41.8 L418.2,40.2 L418.7,38.8 L419.2,37.3 L419.7,36.5 L420.2,36.5 L420.7,37.2 L421.2,38.6 L421.7,39.8 L422.2,40.9 L422.7,41.4 L423.2,41.9 L423.7,42.2 L424.2,42.6 L424.7,43.1 L425.2,43.7 L425.7,44.3 L426.2,44.9 L426.7,45.4 L427.2,45.9 L427.7,46.2 L428.2,46.3 L428.7,46.4 L429.2,46.3 L429.7,46.5 L430.2,46.9 L430.7,47.3 L431.2,47.5 L431.7,47.5 L432.2,47.6 L432.7,47.6 L433.2,48.0 L433.7,48.1 L434.2,48.4 L434.7,48.6 L435.2,48.8 L435.7,48.8 L436.2,48.7 L436.7,48.7 L437.2,48.8 L437.7,48.6 L438.2,48.4 L438.7,48.2 L439.2,48.3 L439.7,48.3 L440.2,48.4 L440.7,48.7 L441.2,48.8 L441.7,48.7 L442.2,48.3 L442.7,48.3 L443.2,48.3 L443.7,48.3 L444.2,48.2 L444.7,48.1 L445.2,48.5 L445.7,48.7 L446.2,49.0 L446.7,49.1 L447.2,49.5 L447.7,49.6 L448.2,49.8 L448.7,49.8 L449.2,49.7 L449.7,49.6 L450.2,49.6 L450.7,49.8 L451.2,50.0 L451.7,50.0 L452.2,50.1 L452.7,50.0 L453.2,50.0 L453.7,49.8 L454.2,49.5 L454.7,49.3 L455.2,48.8 L455.7,48.1 L456.2,47.3 L456.7,46.6 L457.2,45.7 L457.7,45.1 L458.2,44.5 L458.7,44.4 L459.2,44.3 L459.7,44.6 L460.2,44.9 L460.7,45.4 L461.2,45.9 L461.7,46.3 L462.2,46.6 L462.7,46.8 L463.2,46.9 L463.7,46.7 L464.2,46.4 L464.7,45.9 L465.2,45.3 L465.7,44.7 L466.2,44.1 L466.7,43.5 L467.2,43.0 L467.7,42.6 L468.2,42.2 L468.7,42.0 L469.2,41.9 L469.7,42.0 L470.2,42.1 L470.7,42.5 L471.2,42.9 L471.7,43.5 L472.2,43.9 L472.7,44.3 L473.2,44.6 L473.7,44.8 L474.2,44.7 L474.7,44.4 L475.2,43.9 L475.7,43.3 L476.2,42.5 L476.7,41.7 L477.2,40.8 L477.7,40.2 L478.2,39.7 L478.7,39.3 L479.2,39.1 L479.7,39.0 L480.2,39.2 L480.7,39.5 L481.2,40.0 L481.7,40.7 L482.2,41.5 L482.7,42.1 L483.2,42.6 L483.7,43.0 L484.2,43.2 L484.7,43.0 L485.2,42.6 L485.7,42.0 L486.2,41.3 L486.7,40.4 L487.2,39.4 L487.7,38.6 L488.2,38.0 L488.7,37.5 L489.2,37.3 L489.7,37.2 L490.2,37.5 L490.7,38.0 L491.2,38.6 L491.7,39.3 L492.2,40.0 L492.7,40.7 L493.2,41.2 L493.7,41.6 L494.2,41.8 L494.7,41.8 L495.2,41.6 L495.7,41.2 L496.2,40.6 L496.7,39.9 L497.2,39.1 L497.7,38.2 L498.2,37.4 L498.7,36.6 L499.2,36.2 L499.7,35.9 L500.2,36.0 L500.7,36.2 L501.2,36.8 L501.7,37.5 L502.2,38.4 L502.7,39.3 L503.2,40.3 L503.7,40.9 L504.2,41.4 L504.7,41.5 L505.2,41.5 L505.7,41.2 L506.2,40.6 L506.7,39.8 L507.2,38.9 L507.7,38.0 L508.2,37.0 L508.7,36.2 L509.2,35.5 L509.7,35.0 L510.2,34.9 L510.7,35.0 L511.2,35.4 L511.7,35.9 L512.2,36.7 L512.7,37.6 L513.2,38.5 L513.7,39.3 L514.2,39.9 L514.7,40.4 L515.2,40.6 L515.7,40.6 L516.2,40.3 L516.7,39.7 L517.2,39.0 L517.7,38.1 L518.2,37.1 L518.7,36.3 L519.2,35.6 L519.7,35.1 L520.2,34.8 L520.7,34.7 L521.2,34.9 L521.7,35.5 L522.2,36.2 L522.7,37.1 L523.2,38.0 L523.7,38.9 L524.2,39.6 L524.7,40.3 L525.2,40.8 L525.7,41.0 L526.2,40.9 L526.7,40.4 L527.2,39.7 L527.7,38.8 L528.2,37.7 L528.7,36.7 L529.2,35.7 L529.7,34.9 L530.2,34.3 L530.7,34.1 L531.2,34.2 L531.7,34.7 L532.2,35.3 L532.7,36.1 L533.2,37.0 L533.7,38.0 L534.2,38.9 L534.7,39.6 L535.2,40.1 L535.7,40.6 L536.2,40.6 L536.7,40.4 L537.2,39.7 L537.7,38.9 L538.2,37.9 L538.7,37.0 L539.2,36.2 L539.7,35.4 L540.2,34.7 L540.7,34.2 L541.2,34.1 L541.7,34.2 L542.2,34.7 L542.7,35.4 L543.2,36.3 L543.7,37.3 L544.2,38.4 L544.7,39.4 L545.2,40.3 L545.7,40.9 L546.2,41.1 L546.7,41.1 L547.2,40.7 L547.7,40.1 L548.2,39.1 L548.7,38.0 L549.2,36.9 L549.7,35.8 L550.2,34.9 L550.7,34.1 L551.2,33.7 L551.7,33.6 L552.2,34.0 L552.7,34.5 L553.2,35.3 L553.7,36.3 L554.2,37.4 L554.7,38.5 L555.2,39.4 L555.7,40.2 L556.2,40.8 L556.7,41.1 L557.2,41.0 L557.7,40.5 L558.2,39.7 L558.7,38.6 L559.2,37.5 L559.7,36.4 L560.2,35.4 L560.7,34.4 L561.2,33.8 L561.7,33.4 L562.2,33.4 L562.7,33.6 L563.2,34.3 L563.7,35.1 L564.2,36.2 L564.7,37.2 L565.2,38.3 L565.7,39.2 L566.2,40.0 L566.7,40.4 L567.2,40.4 L567.7,40.2 L568.2,39.6 L568.7,38.8 L569.2,37.7 L569.7,36.5 L570.2,35.4 L570.7,34.4 L571.2,33.6 L571.7,33.1 L572.2,32.8 L572.7,32.9 L573.2,33.4 L573.7,34.2 L574.2,35.2 L574.7,36.3 L575.2,37.4 L575.7,38.4 L576.2,39.3 L576.7,40.0 L577.2,40.3 L577.7,40.3 L578.2,40.0 L578.7,39.4 L579.2,38.4 L579.7,37.3 L580.2,36.1 L580.7,35.0 L581.2,34.0 L581.7,33.2 L582.2,32.7 L582.7,32.7 L583.2,32.9 L583.7,33.9 L584.2,35.1 L584.7,36.5 L585.2,37.5 L585.7,38.2 L586.2,38.8 L586.7,39.3 L587.2,39.7 L587.7,40.0 L588.2,40.4 L588.7,40.7 L589.2,40.9 L589.7,41.2 L590.2,41.5 L590.7,41.8 L591.2,42.1 L591.7,42.4 L592.2,42.8 L592.7,43.1 L593.2,43.5 L593.7,43.7 L594.2,43.9 L594.7,44.1 L595.2,44.3 L595.7,44.4 L596.2,44.8 L596.7,45.1 L597.2,45.5 L597.7,45.7 L598.2,46.0 L598.7,46.2 L599.2,46.5 L599.7,46.8 L600.2,47.0 L600.7,47.3 L601.2,47.5 L601.7,47.8 L602.2,47.9 L602.7,48.1 L603.2,48.3 L603.7,48.6 L604.2,48.9 L604.7,49.2 L605.2,49.5 L605.7,49.8 L606.2,50.1 L606.7,50.4 L607.2,50.7 L607.7,50.9 L608.2,51.1 L608.7,51.2 L609.2,51.5 L609.7,51.8 L610.2,52.0 L610.7,52.3 L611.2,52.5 L611.7,52.7 L612.2,52.9 L612.7,53.1 L613.2,53.4 L613.7,53.6 L614.2,53.8 L614.7,54.0 L615.2,54.4 L615.7,54.6 L616.2,54.8 L616.7,55.1 L617.2,55.4 L617.7,55.6 L618.2,55.8 L618.7,56.0 L619.2,56.3 L619.7,56.5 L620.2,56.7 L620.7,57.0 L621.2,57.2 L621.7,57.5 L622.2,57.7 L622.7,58.0 L623.2,58.3 L623.7,58.5 L624.2,58.8 L624.7,59.0 L625.2,59.2 L625.7,59.4 L626.2,59.6 L626.7,59.8 L627.2,60.0 L627.7,60.2 L628.2,60.4 L628.7,60.6 L629.2,60.8 L629.7,61.0 L630.2,61.2 L630.7,61.4 L631.2,61.6 L631.7,61.9 L632.2,62.1 L632.7,62.3 L633.2,62.5 L633.7,62.7 L634.2,62.9 L634.7,63.1 L635.2,63.2 L635.7,63.4 L636.2,63.6 L636.7,63.8 L637.2,64.0 L637.7,64.2 L638.2,64.5 L638.7,64.6 L639.2,64.8 L639.7,65.0 L640.2,65.3 L640.7,65.5 L641.2,65.6" stroke="#3f9bff"/>
<path d="M364.2,132.7 L364.7,132.7 L365.2,132.6 L365.7,132.6 L366.2,132.5 L366.7,132.5 L367.2,132.5 L367.7,132.6 L368.2,132.5 L368.7,132.5 L369.2,132.4 L369.7,132.0 L370.2,130.8 L370.7,129.1 L371.2,127.4 L371.7,125.7 L372.2,124.0 L372.7,122.3 L373.2,120.6 L373.7,119.0 L374.2,117.3 L374.7,115.5 L375.2,113.9 L375.7,112.2 L376.2,110.6 L376.7,109.0 L377.2,107.4 L377.7,105.9 L378.2,104.5 L378.7,103.0 L379.2,101.4 L379.7,99.9 L380.2,98.5 L380.7,97.2 L381.2,95.7 L381.7,94.3 L382.2,92.9 L382.7,91.7 L383.2,90.2 L383.7,88.9 L384.2,87.5 L384.7,86.3 L385.2,85.0 L385.7,83.7 L386.2,82.5 L386.7,81.2 L387.2,80.1 L387.7,78.9 L388.2,77.7 L388.7,76.8 L389.2,75.7 L389.7,74.5 L390.2,73.3 L390.7,72.2 L391.2,71.1 L391.7,70.0 L392.2,68.8 L392.7,67.7 L393.2,66.5 L393.7,65.5 L394.2,64.4 L394.7,63.4 L395.2,62.4 L395.7,61.4 L396.2,60.5 L396.7,59.7 L397.2,58.7 L397.7,57.8 L398.2,56.8 L398.7,56.0 L399.2,55.1 L399.7,54.2 L400.2,53.3 L400.7,52.3 L401.2,51.4 L401.7,50.4 L402.2,49.5 L402.7,48.7 L403.2,48.0 L403.7,47.1 L404.2,46.4 L404.7,45.4 L405.2,44.8 L405.7,44.4 L406.2,44.3 L406.7,44.3 L407.2,44.1 L407.7,44.1 L408.2,44.1 L408.7,44.1 L409.2,44.1 L409.7,44.3 L410.2,44.4 L410.7,44.7 L411.2,44.9 L411.7,45.4 L412.2,45.8 L412.7,46.2 L413.2,46.7 L413.7,46.9 L414.2,47.0 L414.7,46.7 L415.2,46.2 L415.7,45.5 L416.2,44.6 L416.7,43.7 L417.2,43.0 L417.7,42.0 L418.2,40.7 L418.7,39.4 L419.2,38.2 L419.7,37.5 L420.2,37.3 L420.7,38.0 L421.2,39.4 L421.7,40.6 L422.2,41.6 L422.7,42.2 L423.2,43.1 L423.7,44.0 L424.2,44.9 L424.7,45.6 L425.2,46.1 L425.7,46.6 L426.2,46.7 L426.7,47.1 L427.2,47.2 L427.7,47.3 L428.2,47.4 L428.7,47.8 L429.2,48.3 L429.7,48.6 L430.2,49.2 L430.7,49.4 L431.2,49.9 L431.7,50.1 L432.2,50.4 L432.7,50.5 L433.2,50.7 L433.7,51.0 L434.2,51.2 L434.7,51.5 L435.2,52.0 L435.7,52.3 L436.2,52.5 L436.7,52.6 L437.2,52.8 L437.7,52.8 L438.2,52.7 L438.7,52.6 L439.2,52.5 L439.7,52.4 L440.2,52.4 L440.7,52.3 L441.2,52.5 L441.7,52.8 L442.2,52.8 L442.7,53.0 L443.2,52.8 L443.7,53.0 L444.2,53.0 L444.7,52.9 L445.2,52.8 L445.7,52.8 L446.2,52.8 L446.7,52.7 L447.2,52.6 L447.7,52.8 L448.2,53.0 L448.7,53.0 L449.2,53.0 L449.7,52.8 L450.2,52.5 L450.7,51.9 L451.2,51.5 L451.7,51.4 L452.2,51.3 L452.7,51.2 L453.2,51.0 L453.7,50.8 L454.2,50.8 L454.7,50.8 L455.2,50.6 L455.7,50.2 L456.2,49.6 L456.7,49.0 L457.2,48.2 L457.7,47.7 L458.2,47.3 L458.7,47.2 L459.2,47.2 L459.7,47.4 L460.2,47.6 L460.7,48.0 L461.2,48.5 L461.7,48.9 L462.2,49.2 L462.7,49.4 L463.2,49.4 L463.7,49.2 L464.2,48.8 L464.7,48.3 L465.2,47.8 L465.7,47.0 L466.2,46.2 L466.7,45.4 L467.2,44.7 L467.7,44.0 L468.2,43.6 L468.7,43.2 L469.2,43.1 L469.7,43.3 L470.2,43.7 L470.7,44.2 L471.2,44.6 L471.7,45.1 L472.2,45.6 L472.7,46.0 L473.2,46.2 L473.7,46.2 L474.2,46.1 L474.7,45.8 L475.2,45.3 L475.7,44.6 L476.2,43.8 L476.7,42.9 L477.2,42.0 L477.7,41.2 L478.2,40.5 L478.7,40.1 L479.2,39.9 L479.7,39.9 L480.2,40.1 L480.7,40.5 L481.2,41.0 L481.7,41.5 L482.2,42.1 L482.7,42.6 L483.2,43.0 L483.7,43.2 L484.2,43.2 L484.7,42.9 L485.2,42.5 L485.7,41.8 L486.2,41.1 L486.7,40.3 L487.2,39.4 L487.7,38.7 L488.2,37.9 L488.7,37.3 L489.2,36.7 L489.7,36.5 L490.2,36.5 L490.7,36.8 L491.2,37.4 L491.7,38.1 L492.2,38.7 L492.7,39.4 L493.2,39.9 L493.7,40.3 L494.2,40.6 L494.7,40.6 L495.2,40.4 L495.7,39.8 L496.2,39.1 L496.7,38.2 L497.2,37.2 L497.7,36.2 L498.2,35.3 L498.7,34.5 L499.2,34.0 L499.7,33.6 L500.2,33.6 L500.7,34.0 L501.2,34.5 L501.7,35.2 L502.2,36.0 L502.7,37.0 L503.2,37.8 L503.7,38.5 L504.2,39.0 L504.7,39.3 L505.2,39.4 L505.7,39.2 L506.2,38.5 L506.7,37.7 L507.2,36.8 L507.7,36.0 L508.2,35.1 L508.7,34.3 L509.2,33.7 L509.7,33.2 L510.2,33.1 L510.7,33.3 L511.2,33.7 L511.7,34.3 L512.2,35.1 L512.7,36.0 L513.2,37.0 L513.7,37.8 L514.2,38.6 L514.7,39.1 L515.2,39.3 L515.7,39.2 L516.2,38.7 L516.7,38.1 L517.2,37.2 L517.7,36.3 L518.2,35.2 L518.7,34.4 L519.2,33.6 L519.7,33.0 L520.2,32.6 L520.7,32.5 L521.2,32.8 L521.7,33.4 L522.2,34.1 L522.7,35.0 L523.2,36.0 L523.7,36.9 L524.2,37.7 L524.7,38.3 L525.2,38.8 L525.7,38.9 L526.2,38.9 L526.7,38.4 L527.2,37.7 L527.7,36.9 L528.2,35.9 L528.7,34.9 L529.2,34.0 L529.7,33.2 L530.2,32.7 L530.7,32.5 L531.2,32.5 L531.7,32.8 L532.2,33.5 L532.7,34.4 L533.2,35.5 L533.7,36.5 L534.2,37.5 L534.7,38.3 L535.2,38.8 L535.7,39.2 L536.2,39.2 L536.7,39.0 L537.2,38.4 L537.7,37.6 L538.2,36.7 L538.7,35.7 L539.2,34.6 L539.7,33.8 L540.2,33.0 L540.7,32.6 L541.2,32.4 L541.7,32.7 L542.2,33.2 L542.7,33.9 L543.2,34.9 L543.7,35.9 L544.2,37.0 L544.7,38.0 L545.2,38.9 L545.7,39.5 L546.2,39.7 L546.7,39.6 L547.2,39.3 L547.7,38.6 L548.2,37.7 L548.7,36.5 L549.2,35.4 L549.7,34.4 L550.2,33.6 L550.7,32.9 L551.2,32.5 L551.7,32.4 L552.2,32.7 L552.7,33.3 L553.2,34.1 L553.7,35.0 L554.2,36.1 L554.7,37.1 L555.2,38.0 L555.7,38.7 L556.2,39.2 L556.7,39.4 L557.2,39.2 L557.7,38.8 L558.2,38.2 L558.7,37.2 L559.2,36.1 L559.7,34.9 L560.2,33.9 L560.7,33.1 L561.2,32.4 L561.7,31.9 L562.2,31.9 L562.7,32.3 L563.2,33.0 L563.7,33.9 L564.2,34.9 L564.7,36.0 L565.2,37.0 L565.7,37.8 L566.2,38.5 L566.7,39.0 L567.2,39.1 L567.7,38.7 L568.2,38.0 L568.7,37.2 L569.2,36.3 L569.7,35.1 L570.2,34.0 L570.7,32.9 L571.2,32.1 L571.7,31.6 L572.2,31.5 L572.7,31.6 L573.2,32.1 L573.7,32.9 L574.2,34.0 L574.7,35.1 L575.2,36.3 L575.7,37.4 L576.2,38.3 L576.7,38.9 L577.2,39.2 L577.7,39.1 L578.2,38.7 L578.7,37.8 L579.2,36.8 L579.7,35.6 L580.2,34.4 L580.7,33.1 L581.2,32.0 L581.7,31.3 L582.2,30.8 L582.7,30.7 L583.2,31.1 L583.7,32.0 L584.2,33.3 L584.7,34.6 L585.2,35.6 L585.7,36.3 L586.2,37.0 L586.7,37.5 L587.2,37.9 L587.7,38.3 L588.2,38.7 L588.7,39.1 L589.2,39.5 L589.7,39.9 L590.2,40.3 L590.7,40.5 L591.2,40.7 L591.7,40.9 L592.2,41.1 L592.7,41.5 L593.2,41.8 L593.7,42.1 L594.2,42.3 L594.7,42.6 L595.2,43.0 L595.7,43.3 L596.2,43.6 L596.7,43.9 L597.2,44.2 L597.7,44.4 L598.2,44.6 L598.7,44.7 L599.2,45.0 L599.7,45.3 L600.2,45.6 L600.7,45.9 L601.2,46.2 L601.7,46.4 L602.2,46.7 L602.7,47.0 L603.2,47.4 L603.7,47.7 L604.2,48.0 L604.7,48.2 L605.2,48.4 L605.7,48.7 L606.2,49.0 L606.7,49.3 L607.2,49.5 L607.7,49.6 L608.2,49.9 L608.7,50.2 L609.2,50.4 L609.7,50.7 L610.2,50.9 L610.7,51.2 L611.2,51.4 L611.7,51.7 L612.2,52.0 L612.7,52.2 L613.2,52.4 L613.7,52.7 L614.2,53.0 L614.7,53.2 L615.2,53.5 L615.7,53.7 L616.2,54.0 L616.7,54.2 L617.2,54.5 L617.7,54.7 L618.2,55.0 L618.7,55.2 L619.2,55.3 L619.7,55.5 L620.2,55.7 L620.7,56.1 L621.2,56.3 L621.7,56.5 L622.2,56.6 L622.7,56.9 L623.2,57.1 L623.7,57.4 L624.2,57.7 L624.7,57.9 L625.2,58.2 L625.7,58.4 L626.2,58.8 L626.7,59.1 L627.2,59.3 L627.7,59.5 L628.2,59.7 L628.7,59.9 L629.2,60.1 L629.7,60.3 L630.2,60.6 L630.7,60.8 L631.2,61.0 L631.7,61.2 L632.2,61.4 L632.7,61.6 L633.2,61.7 L633.7,62.0 L634.2,62.2 L634.7,62.5 L635.2,62.7 L635.7,63.0 L636.2,63.2 L636.7,63.4 L637.2,63.6 L637.7,63.8 L638.2,64.0 L638.7,64.3 L639.2,64.5 L639.7,64.8 L640.2,64.9 L640.7,65.2 L641.2,65.3" stroke="#a035ff"/>
<path d="M364.2,133.0 L364.7,132.9 L365.2,132.8 L365.7,132.8 L366.2,132.7 L366.7,132.6 L367.2,132.6 L367.7,132.7 L368.2,132.7 L368.7,132.8 L369.2,132.8 L369.7,132.4 L370.2,131.3 L370.7,129.5 L371.2,127.6 L371.7,125.6 L372.2,123.8 L372.7,122.1 L373.2,120.3 L373.7,118.5 L374.2,116.7 L374.7,115.0 L375.2,113.4 L375.7,111.8 L376.2,110.2 L376.7,108.6 L377.2,107.1 L377.7,105.5 L378.2,103.9 L378.7,102.3 L379.2,100.8 L379.7,99.3 L380.2,97.8 L380.7,96.4 L381.2,94.9 L381.7,93.4 L382.2,92.0 L382.7,90.5 L383.2,89.2 L383.7,87.8 L384.2,86.6 L384.7,85.3 L385.2,84.1 L385.7,82.7 L386.2,81.4 L386.7,80.2 L387.2,79.0 L387.7,77.8 L388.2,76.7 L388.7,75.7 L389.2,74.7 L389.7,73.7 L390.2,72.6 L390.7,71.4 L391.2,70.3 L391.7,69.1 L392.2,67.9 L392.7,66.7 L393.2,65.7 L393.7,64.7 L394.2,63.7 L394.7,62.8 L395.2,61.8 L395.7,60.9 L396.2,59.9 L396.7,58.9 L397.2,57.9 L397.7,56.9 L398.2,56.1 L398.7,55.2 L399.2,54.4 L399.7,53.5 L400.2,52.6 L400.7,51.8 L401.2,50.9 L401.7,50.1 L402.2,49.1 L402.7,48.2 L403.2,47.2 L403.7,46.4 L404.2,45.5 L404.7,44.6 L405.2,43.5 L405.7,42.7 L406.2,41.9 L406.7,41.4 L407.2,40.7 L407.7,40.0 L408.2,39.4 L408.7,39.4 L409.2,39.4 L409.7,39.8 L410.2,40.4 L410.7,41.1 L411.2,41.8 L411.7,42.6 L412.2,43.5 L412.7,44.2 L413.2,45.0 L413.7,45.4 L414.2,45.6 L414.7,45.4 L415.2,44.7 L415.7,44.1 L416.2,43.0 L416.7,42.0 L417.2,40.7 L417.7,39.5 L418.2,37.9 L418.7,36.2 L419.2,34.6 L419.7,33.8 L420.2,33.6 L420.7,34.4 L421.2,35.7 L421.7,37.1 L422.2,38.1 L422.7,39.0 L423.2,39.3 L423.7,39.6 L424.2,39.4 L424.7,39.7 L425.2,39.6 L425.7,39.9 L426.2,39.9 L426.7,40.1 L427.2,40.1 L427.7,40.4 L428.2,40.9 L428.7,41.2 L429.2,41.5 L429.7,41.6 L430.2,41.7 L430.7,41.6 L431.2,41.6 L431.7,41.6 L432.2,41.6 L432.7,41.3 L433.2,41.1 L433.7,41.4 L434.2,41.7 L434.7,41.9 L435.2,42.0 L435.7,42.3 L436.2,42.6 L436.7,42.7 L437.2,42.6 L437.7,42.7 L438.2,42.8 L438.7,42.9 L439.2,42.9 L439.7,42.8 L440.2,42.7 L440.7,42.7 L441.2,42.7 L441.7,42.8 L442.2,42.9 L442.7,42.8 L443.2,42.8 L443.7,42.8 L444.2,43.0 L444.7,43.0 L445.2,43.1 L445.7,43.1 L446.2,43.2 L446.7,43.4 L447.2,43.5 L447.7,43.7 L448.2,43.7 L448.7,43.8 L449.2,43.5 L449.7,43.5 L450.2,43.4 L450.7,43.4 L451.2,43.4 L451.7,43.6 L452.2,43.8 L452.7,43.9 L453.2,44.1 L453.7,44.3 L454.2,44.3 L454.7,44.0 L455.2,43.4 L455.7,42.6 L456.2,41.7 L456.7,41.1 L457.2,40.3 L457.7,39.8 L458.2,39.4 L458.7,39.4 L459.2,39.4 L459.7,39.6 L460.2,39.9 L460.7,40.3 L461.2,40.8 L461.7,41.3 L462.2,41.6 L462.7,41.9 L463.2,41.9 L463.7,41.7 L464.2,41.5 L464.7,41.1 L465.2,40.6 L465.7,40.0 L466.2,39.3 L466.7,38.6 L467.2,37.8 L467.7,37.3 L468.2,36.9 L468.7,36.8 L469.2,36.6 L469.7,36.8 L470.2,37.1 L470.7,37.5 L471.2,38.0 L471.7,38.6 L472.2,39.1 L472.7,39.5 L473.2,39.8 L473.7,39.9 L474.2,39.8 L474.7,39.5 L475.2,39.0 L475.7,38.3 L476.2,37.6 L476.7,36.9 L477.2,36.1 L477.7,35.4 L478.2,34.8 L478.7,34.5 L479.2,34.4 L479.7,34.6 L480.2,34.9 L480.7,35.4 L481.2,36.0 L481.7,36.7 L482.2,37.3 L482.7,38.0 L483.2,38.5 L483.7,38.8 L484.2,39.0 L484.7,39.0 L485.2,38.7 L485.7,38.2 L486.2,37.5 L486.7,36.7 L487.2,35.8 L487.7,34.9 L488.2,34.1 L488.7,33.4 L489.2,33.1 L489.7,32.9 L490.2,33.0 L490.7,33.3 L491.2,34.0 L491.7,34.9 L492.2,35.9 L492.7,36.8 L493.2,37.6 L493.7,38.2 L494.2,38.5 L494.7,38.6 L495.2,38.4 L495.7,37.9 L496.2,37.2 L496.7,36.4 L497.2,35.4 L497.7,34.3 L498.2,33.4 L498.7,32.8 L499.2,32.4 L499.7,32.3 L500.2,32.3 L500.7,32.7 L501.2,33.2 L501.7,34.0 L502.2,34.8 L502.7,35.6 L503.2,36.4 L503.7,37.2 L504.2,37.7 L504.7,38.1 L505.2,38.1 L505.7,37.9 L506.2,37.5 L506.7,36.8 L507.2,35.8 L507.7,34.8 L508.2,33.7 L508.7,32.7 L509.2,32.0 L509.7,31.4 L510.2,31.2 L510.7,31.3 L511.2,31.7 L511.7,32.3 L512.2,33.1 L512.7,34.2 L513.2,35.2 L513.7,36.1 L514.2,36.8 L514.7,37.2 L515.2,37.4 L515.7,37.4 L516.2,37.0 L516.7,36.5 L517.2,35.6 L517.7,34.8 L518.2,33.7 L518.7,32.7 L519.2,31.8 L519.7,31.1 L520.2,30.8 L520.7,30.7 L521.2,30.9 L521.7,31.4 L522.2,32.2 L522.7,33.2 L523.2,34.2 L523.7,35.3 L524.2,36.3 L524.7,37.1 L525.2,37.6 L525.7,37.8 L526.2,37.6 L526.7,37.1 L527.2,36.3 L527.7,35.4 L528.2,34.4 L528.7,33.4 L529.2,32.5 L529.7,31.8 L530.2,31.2 L530.7,30.9 L531.2,30.8 L531.7,31.2 L532.2,31.9 L532.7,32.8 L533.2,33.8 L533.7,35.0 L534.2,36.1 L534.7,37.1 L535.2,37.7 L535.7,38.1 L536.2,38.2 L536.7,38.0 L537.2,37.4 L537.7,36.5 L538.2,35.6 L538.7,34.6 L539.2,33.5 L539.7,32.5 L540.2,31.8 L540.7,31.3 L541.2,31.2 L541.7,31.3 L542.2,31.7 L542.7,32.5 L543.2,33.5 L543.7,34.8 L544.2,36.0 L544.7,37.1 L545.2,38.0 L545.7,38.6 L546.2,38.9 L546.7,38.9 L547.2,38.5 L547.7,37.9 L548.2,37.0 L548.7,35.9 L549.2,34.7 L549.7,33.6 L550.2,32.5 L550.7,31.9 L551.2,31.4 L551.7,31.4 L552.2,31.6 L552.7,32.1 L553.2,32.8 L553.7,33.8 L554.2,34.9 L554.7,36.0 L555.2,36.9 L555.7,37.7 L556.2,38.3 L556.7,38.6 L557.2,38.4 L557.7,37.9 L558.2,37.0 L558.7,36.0 L559.2,34.9 L559.7,33.8 L560.2,32.7 L560.7,31.8 L561.2,31.3 L561.7,31.1 L562.2,31.1 L562.7,31.5 L563.2,32.2 L563.7,33.1 L564.2,34.2 L564.7,35.4 L565.2,36.5 L565.7,37.5 L566.2,38.2 L566.7,38.6 L567.2,38.6 L567.7,38.2 L568.2,37.6 L568.7,36.7 L569.2,35.5 L569.7,34.3 L570.2,33.1 L570.7,32.0 L571.2,31.2 L571.7,30.7 L572.2,30.4 L572.7,30.5 L573.2,30.9 L573.7,31.6 L574.2,32.5 L574.7,33.6 L575.2,34.7 L575.7,35.8 L576.2,36.7 L576.7,37.4 L577.2,37.8 L577.7,37.9 L578.2,37.4 L578.7,36.8 L579.2,35.8 L579.7,34.6 L580.2,33.3 L580.7,32.0 L581.2,31.0 L581.7,30.2 L582.2,29.7 L582.7,29.7 L583.2,30.0 L583.7,31.0 L584.2,32.4 L584.7,33.7 L585.2,34.8 L585.7,35.6 L586.2,36.2 L586.7,36.7 L587.2,37.0 L587.7,37.4 L588.2,37.7 L588.7,38.1 L589.2,38.5 L589.7,38.9 L590.2,39.3 L590.7,39.5 L591.2,39.8 L591.7,40.0 L592.2,40.3 L592.7,40.5 L593.2,40.8 L593.7,41.2 L594.2,41.4 L594.7,41.7 L595.2,42.0 L595.7,42.3 L596.2,42.5 L596.7,42.9 L597.2,43.1 L597.7,43.4 L598.2,43.7 L598.7,44.0 L599.2,44.2 L599.7,44.5 L600.2,44.8 L600.7,45.0 L601.2,45.4 L601.7,45.7 L602.2,46.0 L602.7,46.3 L603.2,46.6 L603.7,46.7 L604.2,47.0 L604.7,47.4 L605.2,47.7 L605.7,47.9 L606.2,48.0 L606.7,48.3 L607.2,48.5 L607.7,48.9 L608.2,49.1 L608.7,49.4 L609.2,49.6 L609.7,50.0 L610.2,50.2 L610.7,50.4 L611.2,50.7 L611.7,51.0 L612.2,51.2 L612.7,51.5 L613.2,51.7 L613.7,52.0 L614.2,52.2 L614.7,52.5 L615.2,52.7 L615.7,53.0 L616.2,53.2 L616.7,53.5 L617.2,53.6 L617.7,53.9 L618.2,54.0 L618.7,54.4 L619.2,54.7 L619.7,54.9 L620.2,55.1 L620.7,55.4 L621.2,55.7 L621.7,56.0 L622.2,56.1 L622.7,56.3 L623.2,56.5 L623.7,56.9 L624.2,57.1 L624.7,57.4 L625.2,57.5 L625.7,57.8 L626.2,58.1 L626.7,58.3 L627.2,58.5 L627.7,58.7 L628.2,59.0 L628.7,59.4 L629.2,59.6 L629.7,59.8 L630.2,60.0 L630.7,60.3 L631.2,60.4 L631.7,60.6 L632.2,60.8 L632.7,61.2 L633.2,61.4 L633.7,61.6 L634.2,61.8 L634.7,62.0 L635.2,62.3 L635.7,62.4 L636.2,62.7 L636.7,62.9 L637.2,63.1 L637.7,63.3 L638.2,63.5 L638.7,63.7 L639.2,63.9 L639.7,64.0 L640.2,64.2 L640.7,64.5 L641.2,64.7" stroke="#ff63c8"/>
<path d="M364.2,132.5 L364.7,132.6 L365.2,132.8 L365.7,132.9 L366.2,133.0 L366.7,132.9 L367.2,133.0 L367.7,132.9 L368.2,133.0 L368.7,133.1 L369.2,133.1 L369.7,132.6 L370.2,131.4 L370.7,129.7 L371.2,127.8 L371.7,125.9 L372.2,124.0 L372.7,122.2 L373.2,120.3 L373.7,118.5 L374.2,116.6 L374.7,114.8 L375.2,113.0 L375.7,111.3 L376.2,109.7 L376.7,108.1 L377.2,106.5 L377.7,104.9 L378.2,103.4 L378.7,101.9 L379.2,100.4 L379.7,98.9 L380.2,97.4 L380.7,95.8 L381.2,94.4 L381.7,92.9 L382.2,91.4 L382.7,89.9 L383.2,88.5 L383.7,87.1 L384.2,85.7 L384.7,84.4 L385.2,83.2 L385.7,81.9 L386.2,80.5 L386.7,79.2 L387.2,78.0 L387.7,76.8 L388.2,75.6 L388.7,74.4 L389.2,73.3 L389.7,72.2 L390.2,71.1 L390.7,70.0 L391.2,68.9 L391.7,67.8 L392.2,66.7 L392.7,65.5 L393.2,64.5 L393.7,63.5 L394.2,62.5 L394.7,61.5 L395.2,60.5 L395.7,59.5 L396.2,58.5 L396.7,57.5 L397.2,56.6 L397.7,55.7 L398.2,54.7 L398.7,53.7 L399.2,52.8 L399.7,52.0 L400.2,51.2 L400.7,50.3 L401.2,49.5 L401.7,48.7 L402.2,48.0 L402.7,47.2 L403.2,46.6 L403.7,46.1 L404.2,45.6 L404.7,45.1 L405.2,44.5 L405.7,44.1 L406.2,43.7 L406.7,43.2 L407.2,42.9 L407.7,42.6 L408.2,42.5 L408.7,42.5 L409.2,42.6 L409.7,42.8 L410.2,43.0 L410.7,43.4 L411.2,43.8 L411.7,44.5 L412.2,44.9 L412.7,45.4 L413.2,45.6 L413.7,46.1 L414.2,46.1 L414.7,46.0 L415.2,45.7 L415.7,45.1 L416.2,44.1 L416.7,42.9 L417.2,42.2 L417.7,41.1 L418.2,39.6 L418.7,37.9 L419.2,36.5 L419.7,35.8 L420.2,36.1 L420.7,37.2 L421.2,38.8 L421.7,40.1 L422.2,41.0 L422.7,41.4 L423.2,42.2 L423.7,42.9 L424.2,43.4 L424.7,43.8 L425.2,44.3 L425.7,45.0 L426.2,45.7 L426.7,46.1 L427.2,46.5 L427.7,47.1 L428.2,47.5 L428.7,48.1 L429.2,48.2 L429.7,48.4 L430.2,48.3 L430.7,48.3 L431.2,48.2 L431.7,48.2 L432.2,48.4 L432.7,48.6 L433.2,48.9 L433.7,49.2 L434.2,49.5 L434.7,49.7 L435.2,49.9 L435.7,50.1 L436.2,50.1 L436.7,50.1 L437.2,49.9 L437.7,49.9 L438.2,49.9 L438.7,49.9 L439.2,49.9 L439.7,49.9 L440.2,50.0 L440.7,50.1 L441.2,50.3 L441.7,50.4 L442.2,50.4 L442.7,50.3 L443.2,50.3 L443.7,50.5 L444.2,50.5 L444.7,50.7 L445.2,50.5 L445.7,50.8 L446.2,50.7 L446.7,51.0 L447.2,50.9 L447.7,50.9 L448.2,51.0 L448.7,50.8 L449.2,51.0 L449.7,50.8 L450.2,50.9 L450.7,51.1 L451.2,51.1 L451.7,51.3 L452.2,51.4 L452.7,51.4 L453.2,51.4 L453.7,51.2 L454.2,51.0 L454.7,50.7 L455.2,50.3 L455.7,49.9 L456.2,49.0 L456.7,48.2 L457.2,47.3 L457.7,46.7 L458.2,46.1 L458.7,45.8 L459.2,45.9 L459.7,46.2 L460.2,46.5 L460.7,47.0 L461.2,47.4 L461.7,47.9 L462.2,48.2 L462.7,48.6 L463.2,48.8 L463.7,48.6 L464.2,48.3 L464.7,47.7 L465.2,47.0 L465.7,46.2 L466.2,45.4 L466.7,44.6 L467.2,43.9 L467.7,43.2 L468.2,42.8 L468.7,42.5 L469.2,42.6 L469.7,42.8 L470.2,43.2 L470.7,43.7 L471.2,44.4 L471.7,45.1 L472.2,45.8 L472.7,46.3 L473.2,46.7 L473.7,47.0 L474.2,47.0 L474.7,46.7 L475.2,46.2 L475.7,45.5 L476.2,44.6 L476.7,43.8 L477.2,42.9 L477.7,42.2 L478.2,41.6 L478.7,41.3 L479.2,41.2 L479.7,41.3 L480.2,41.7 L480.7,42.3 L481.2,43.0 L481.7,43.8 L482.2,44.5 L482.7,45.2 L483.2,45.7 L483.7,46.0 L484.2,46.1 L484.7,45.9 L485.2,45.5 L485.7,44.7 L486.2,43.9 L486.7,42.9 L487.2,42.0 L487.7,41.1 L488.2,40.2 L488.7,39.5 L489.2,39.1 L489.7,39.0 L490.2,39.3 L490.7,39.7 L491.2,40.4 L491.7,41.2 L492.2,42.1 L492.7,43.0 L493.2,43.7 L493.7,44.3 L494.2,44.7 L494.7,45.0 L495.2,44.9 L495.7,44.5 L496.2,43.6 L496.7,42.7 L497.2,41.6 L497.7,40.5 L498.2,39.5 L498.7,38.6 L499.2,37.9 L499.7,37.6 L500.2,37.7 L500.7,38.0 L501.2,38.7 L501.7,39.6 L502.2,40.7 L502.7,41.8 L503.2,42.8 L503.7,43.7 L504.2,44.5 L504.7,44.9 L505.2,45.0 L505.7,44.8 L506.2,44.3 L506.7,43.5 L507.2,42.6 L507.7,41.5 L508.2,40.4 L508.7,39.5 L509.2,38.9 L509.7,38.4 L510.2,38.2 L510.7,38.4 L511.2,38.9 L511.7,39.8 L512.2,40.8 L512.7,41.9 L513.2,43.1 L513.7,44.1 L514.2,45.2 L514.7,45.9 L515.2,46.2 L515.7,46.1 L516.2,45.6 L516.7,44.9 L517.2,44.0 L517.7,42.8 L518.2,41.6 L518.7,40.5 L519.2,39.4 L519.7,38.5 L520.2,38.1 L520.7,38.1 L521.2,38.5 L521.7,39.1 L522.2,40.0 L522.7,41.2 L523.2,42.4 L523.7,43.7 L524.2,44.9 L524.7,45.6 L525.2,46.2 L525.7,46.2 L526.2,46.0 L526.7,45.3 L527.2,44.4 L527.7,43.3 L528.2,42.1 L528.7,40.7 L529.2,39.4 L529.7,38.5 L530.2,37.8 L530.7,37.5 L531.2,37.6 L531.7,38.1 L532.2,39.0 L532.7,40.0 L533.2,41.2 L533.7,42.4 L534.2,43.7 L534.7,44.9 L535.2,45.7 L535.7,46.3 L536.2,46.4 L536.7,46.3 L537.2,45.7 L537.7,44.8 L538.2,43.6 L538.7,42.4 L539.2,41.1 L539.7,40.1 L540.2,39.1 L540.7,38.5 L541.2,38.2 L541.7,38.3 L542.2,38.9 L542.7,39.8 L543.2,41.0 L543.7,42.4 L544.2,43.7 L544.7,44.9 L545.2,45.9 L545.7,46.7 L546.2,47.0 L546.7,47.0 L547.2,46.4 L547.7,45.7 L548.2,44.6 L548.7,43.4 L549.2,42.1 L549.7,40.8 L550.2,39.8 L550.7,39.0 L551.2,38.5 L551.7,38.4 L552.2,38.8 L552.7,39.5 L553.2,40.5 L553.7,41.6 L554.2,42.8 L554.7,44.0 L555.2,45.1 L555.7,46.0 L556.2,46.5 L556.7,46.7 L557.2,46.4 L557.7,45.8 L558.2,44.7 L558.7,43.5 L559.2,42.2 L559.7,40.9 L560.2,39.6 L560.7,38.5 L561.2,37.8 L561.7,37.4 L562.2,37.4 L562.7,37.7 L563.2,38.4 L563.7,39.5 L564.2,40.7 L564.7,42.0 L565.2,43.3 L565.7,44.5 L566.2,45.3 L566.7,45.8 L567.2,45.9 L567.7,45.5 L568.2,44.8 L568.7,43.8 L569.2,42.5 L569.7,41.2 L570.2,39.8 L570.7,38.6 L571.2,37.6 L571.7,36.9 L572.2,36.6 L572.7,36.7 L573.2,37.2 L573.7,38.1 L574.2,39.3 L574.7,40.6 L575.2,41.9 L575.7,43.2 L576.2,44.2 L576.7,45.0 L577.2,45.4 L577.7,45.3 L578.2,44.9 L578.7,44.2 L579.2,43.1 L579.7,41.7 L580.2,40.3 L580.7,38.9 L581.2,37.8 L581.7,36.9 L582.2,36.4 L582.7,36.2 L583.2,36.7 L583.7,38.1 L584.2,40.1 L584.7,42.2 L585.2,43.7 L585.7,44.7 L586.2,45.5 L586.7,46.1 L587.2,46.7 L587.7,47.1 L588.2,47.5 L588.7,47.9 L589.2,48.2 L589.7,48.5 L590.2,48.7 L590.7,48.9 L591.2,49.2 L591.7,49.5 L592.2,49.8 L592.7,50.0 L593.2,50.3 L593.7,50.6 L594.2,50.8 L594.7,51.1 L595.2,51.3 L595.7,51.6 L596.2,51.9 L596.7,52.3 L597.2,52.6 L597.7,52.9 L598.2,53.2 L598.7,53.5 L599.2,53.8 L599.7,53.9 L600.2,54.2 L600.7,54.4 L601.2,54.7 L601.7,55.0 L602.2,55.3 L602.7,55.5 L603.2,55.7 L603.7,55.9 L604.2,56.2 L604.7,56.5 L605.2,56.7 L605.7,57.0 L606.2,57.1 L606.7,57.4 L607.2,57.7 L607.7,58.0 L608.2,58.2 L608.7,58.4 L609.2,58.7 L609.7,59.0 L610.2,59.2 L610.7,59.4 L611.2,59.7 L611.7,59.9 L612.2,60.1 L612.7,60.3 L613.2,60.5 L613.7,60.8 L614.2,61.0 L614.7,61.1 L615.2,61.4 L615.7,61.5 L616.2,61.7 L616.7,62.0 L617.2,62.4 L617.7,62.7 L618.2,63.0 L618.7,63.2 L619.2,63.5 L619.7,63.7 L620.2,63.9 L620.7,64.0 L621.2,64.1 L621.7,64.3 L622.2,64.6 L622.7,64.8 L623.2,65.0 L623.7,65.3 L624.2,65.5 L624.7,65.8 L625.2,66.0 L625.7,66.2 L626.2,66.4 L626.7,66.6 L627.2,66.8 L627.7,67.1 L628.2,67.3 L628.7,67.5 L629.2,67.7 L629.7,67.9 L630.2,68.1 L630.7,68.3 L631.2,68.6 L631.7,68.8 L632.2,69.0 L632.7,69.1 L633.2,69.4 L633.7,69.6 L634.2,69.8 L634.7,69.9 L635.2,70.1 L635.7,70.3 L636.2,70.6 L636.7,70.8 L637.2,71.1 L637.7,71.3 L638.2,71.4 L638.7,71.7 L639.2,71.8 L639.7,72.0 L640.2,72.2 L640.7,72.4 L641.2,72.6" stroke="#e0142e"/>
</g>
<g stroke="#111" stroke-width="1.35" stroke-dasharray="4.8,2.6" fill="none">
<path d="M369.9,13.5 V138.6"/><path d="M402.3,13.5 V138.6"/><path d="M435,13.5 V138.6"/><path d="M455.3,13.5 V138.6"/><path d="M583.5,13.5 V104"/>
</g>
<rect x="364.1" y="12.4" width="291.8" height="126.2" fill="none" stroke="#6a6a6a" stroke-width="0.8"/>
<g stroke="#333" stroke-width="0.6">
<path d="M364.1,138.6 v2.4 M397.6,138.6 v2.4 M431.1,138.6 v2.4 M464.6,138.6 v2.4 M498.1,138.6 v2.4 M531.6,138.6 v2.4 M565.1,138.6 v2.4 M598.6,138.6 v2.4 M632.1,138.6 v2.4"/>
<path d="M364.1,138.6 h-2.4 M364.1,110.8 h-2.4 M364.1,83 h-2.4 M364.1,55.2 h-2.4 M364.1,27.4 h-2.4"/>
</g>
<g class="tick" text-anchor="middle">
<text x="364.1" y="149.6">0</text><text x="397.6" y="149.6">100</text><text x="431.1" y="149.6">200</text><text x="464.6" y="149.6">300</text><text x="498.1" y="149.6">400</text><text x="531.6" y="149.6">500</text><text x="565.1" y="149.6">600</text><text x="598.6" y="149.6">700</text><text x="632.1" y="149.6">800</text>
</g>
<g class="tick" text-anchor="end">
<text x="358.9" y="141.4">20</text><text x="358.9" y="113.6">30</text><text x="358.9" y="85.8">40</text><text x="358.9" y="58">50</text><text x="358.9" y="30.2">60</text>
</g>
<text x="509.6" y="160.5" text-anchor="middle" style="font-size:10px" fill="#262626" textLength="74.6" lengthAdjust="spacingAndGlyphs">Time Elapsed (s)</text>
<text transform="translate(345.2,75.4) rotate(-90)" text-anchor="middle" style="font-size:10px" fill="#262626" textLength="78.8" lengthAdjust="spacingAndGlyphs">Temperature (˚C)</text>
<!-- phase arrows -->
<g stroke="#111" stroke-width="0.9" fill="none">
<path d="M370,117.1 H455.3"/>
<path d="M455.6,91.7 H583.3"/>
</g>
<g fill="#111">
<path d="M370,117.1 l3.2,-1.6 v3.2 z M402.3,117.1 l-3.2,-1.6 v3.2 z M402.3,117.1 l3.2,-1.6 v3.2 z M435,117.1 l-3.2,-1.6 v3.2 z M435,117.1 l3.2,-1.6 v3.2 z M455.3,117.1 l-3.2,-1.6 v3.2 z"/>
<path d="M455.5,91.7 l3.4,-1.7 v3.4 z M583.4,91.7 l-3.4,-1.7 v3.4 z"/>
</g>
<g stroke="#111" stroke-width="0.7" fill="none" marker-end="url(#abs)">
<path d="M464,105.6 L435.4,99.6"/>
<path d="M598,81.5 L584,75.8"/>
</g>
<g style="font-size:7.2px;font-weight:bold" fill="#111">
<text x="383.8" y="127.2" text-anchor="middle">(i)</text>
<text x="418.6" y="127.2" text-anchor="middle">(ii)</text>
<text x="445.2" y="127.2" text-anchor="middle">(iii)</text>
<text x="519.5" y="99.5" text-anchor="middle">(iv)</text>
<text x="465.3" y="109.2" textLength="42.5" lengthAdjust="spacingAndGlyphs">Print fan on</text>
<text x="601.3" y="83.8" textLength="38" lengthAdjust="spacingAndGlyphs">Print ends</text>
</g>
<!-- legend -->
<rect x="530.6" y="104.4" width="122.1" height="30.4" rx="1.6" fill="#fff" fill-opacity="0.9" stroke="#d0d0d0" stroke-width="0.6"/>
<g stroke-width="1.1" fill="none">
<path d="M533,109.6 H546.4" stroke="#ff8419"/><path d="M533,119.4 H546.4" stroke="#f5e02a"/><path d="M533,129 H546.4" stroke="#33f533"/>
<path d="M575.8,109.6 H589.6" stroke="#1b7d1b"/><path d="M575.8,119.4 H589.6" stroke="#1212ff"/><path d="M575.8,129 H589.6" stroke="#3f9bff"/>
<path d="M618.7,109.6 H632.3" stroke="#a035ff"/><path d="M618.7,119.4 H632.3" stroke="#ff63c8"/><path d="M618.7,129 H632.3" stroke="#e0142e"/>
</g>
<g style="font-size:7.3px" fill="#262626">
<text x="551.4" y="112.2">TC1</text><text x="551.4" y="122">TC2</text><text x="551.4" y="131.6">TC3</text>
<text x="594.6" y="112.2">TC4</text><text x="594.6" y="122">TC5</text><text x="594.6" y="131.6">TC6</text>
<text x="637.6" y="112.2">TC7</text><text x="637.6" y="122">TC8</text><text x="637.6" y="131.6">TC9</text>
</g>

<!-- heat image -->
<g id="heatimg">
<rect x="334.3" y="173.4" width="119.4" height="119.2" fill="#262626"/>
<rect x="334.3" y="173.4" width="119.4" height="119.2" fill="#fff" filter="url(#grain)" opacity="0.5"/>
<g filter="url(#soft2)">
<path d="M343.6,181.9 L442.2,181.8 C443,181.8 443.1,182.4 443.1,183 L443.2,201 C443.2,207.5 438.9,207 438.7,215 L441.2,250 L443.4,280 C443.5,283.2 442.6,284.2 439.6,284.2 L347.4,284.2 C344.4,284.2 343.5,283.2 343.6,280 L345.4,250 L346.3,215 C346.1,207 342.8,207.5 342.8,201 L342.8,183 C342.8,182.4 343,181.9 343.6,181.9 Z" fill="url(#heat)"/>
<path d="M342.9,182.4 L342.9,205" fill="none" stroke="#9fdc4a" stroke-width="0.7"/>
<path d="M343,203 C343.6,208 346,208.5 346.1,215 L345.2,250 L343.5,281" fill="none" stroke="#4fe27a" stroke-width="1.4"/>
<path d="M345.3,214 L344.5,250 L342.9,281" fill="none" stroke="#32b4f0" stroke-width="0.9"/>
<path d="M443,203 C442.4,208 439,208.5 438.9,215 L441.4,250 L443.5,281" fill="none" stroke="#8fe84a" stroke-width="1.3"/>
<path d="M443,183 L443.2,205" fill="none" stroke="#c8e040" stroke-width="0.7"/>
<path d="M346,284.4 L441,284.4" stroke="#ffc050" stroke-width="0.7" fill="none"/>
<rect x="350" y="212" width="84" height="68" fill="url(#heatx)"/>
</g>
</g>
<!-- scatter -->
<g id="scatter">
<path d="M467,171.8 H661.5 V311 H467" fill="none" stroke="#dedede" stroke-width="0.7"/>
<rect x="492.6" y="173.4" width="162.2" height="120.8" fill="#fff" stroke="#7a7a7a" stroke-width="0.7"/>
<g stroke="#444" stroke-width="0.5">
<path d="M492.6,294.2 v1.8 M525,294.2 v1.8 M557.4,294.2 v1.8 M589.7,294.2 v1.8 M622.1,294.2 v1.8 M654.5,294.2 v1.8"/>
<path d="M492.6,290.1 h-1.8 M492.6,266.3 h-1.8 M492.6,242.4 h-1.8 M492.6,218.6 h-1.8 M492.6,194.7 h-1.8"/>
</g>
<g class="stick" text-anchor="middle">
<text x="492.6" y="302.6">0</text><text x="525" y="302.6">10</text><text x="557.4" y="302.6">20</text><text x="589.7" y="302.6">30</text><text x="622.1" y="302.6">40</text><text x="654.5" y="302.6">50</text>
</g>
<g class="stick" text-anchor="end">
<text x="489.8" y="292.2">0.00</text><text x="489.8" y="268.4">0.05</text><text x="489.8" y="244.5">0.10</text><text x="489.8" y="220.7">0.15</text><text x="489.8" y="196.8">0.20</text>
</g>
<text transform="translate(474.4,234) rotate(-90)" text-anchor="middle" style="font-size:7.2px" fill="#262626" textLength="82" lengthAdjust="spacingAndGlyphs">Shrinkage Distance (mm)</text>
<text x="565.6" y="309.6" style="font-size:6.2px;font-style:italic" fill="#262626">L<tspan dy="1.3" style="font-size:4.6px">start</tspan></text>
<polyline points="512.0,288.7 531.5,271.5 550.9,248.4 570.3,220.6 589.7,203.8 609.2,183.6 628.6,193.0" fill="none" stroke="#ff1a1a" stroke-width="0.85"/>
<circle cx="512.0" cy="288.7" r="1.65" fill="#ff1a1a"/>
<circle cx="531.5" cy="271.5" r="1.65" fill="#ff1a1a"/>
<circle cx="550.9" cy="248.4" r="1.65" fill="#ff1a1a"/>
<circle cx="570.3" cy="220.6" r="1.65" fill="#ff1a1a"/>
<circle cx="589.7" cy="203.8" r="1.65" fill="#ff1a1a"/>
<circle cx="609.2" cy="183.6" r="1.65" fill="#ff1a1a"/>
<circle cx="628.6" cy="193.0" r="1.65" fill="#ff1a1a"/>
<polyline points="512.0,289.1 531.5,267.7 550.9,247.6 570.3,209.0 589.7,179.1 609.2,201.4 628.6,214.9" fill="none" stroke="#f5a21d" stroke-width="0.85"/>
<circle cx="512.0" cy="289.1" r="1.65" fill="#f5a21d"/>
<circle cx="531.5" cy="267.7" r="1.65" fill="#f5a21d"/>
<circle cx="550.9" cy="247.6" r="1.65" fill="#f5a21d"/>
<circle cx="570.3" cy="209.0" r="1.65" fill="#f5a21d"/>
<circle cx="589.7" cy="179.1" r="1.65" fill="#f5a21d"/>
<circle cx="609.2" cy="201.4" r="1.65" fill="#f5a21d"/>
<circle cx="628.6" cy="214.9" r="1.65" fill="#f5a21d"/>
<polyline points="512.0,282.4 531.5,248.4 550.9,214.9 570.3,187.7 589.7,185.2 609.2,194.0 628.6,207.5" fill="none" stroke="#2a8f2a" stroke-width="0.85"/>
<circle cx="512.0" cy="282.4" r="1.65" fill="#2a8f2a"/>
<circle cx="531.5" cy="248.4" r="1.65" fill="#2a8f2a"/>
<circle cx="550.9" cy="214.9" r="1.65" fill="#2a8f2a"/>
<circle cx="570.3" cy="187.7" r="1.65" fill="#2a8f2a"/>
<circle cx="589.7" cy="185.2" r="1.65" fill="#2a8f2a"/>
<circle cx="609.2" cy="194.0" r="1.65" fill="#2a8f2a"/>
<circle cx="628.6" cy="207.5" r="1.65" fill="#2a8f2a"/>
<polyline points="512.0,287.0 531.5,266.7 550.9,250.0 570.3,232.5 589.7,222.1 609.2,210.0 628.6,239.1" fill="none" stroke="#2424ff" stroke-width="0.85"/>
<circle cx="512.0" cy="287.0" r="1.65" fill="#2424ff"/>
<circle cx="531.5" cy="266.7" r="1.65" fill="#2424ff"/>
<circle cx="550.9" cy="250.0" r="1.65" fill="#2424ff"/>
<circle cx="570.3" cy="232.5" r="1.65" fill="#2424ff"/>
<circle cx="589.7" cy="222.1" r="1.65" fill="#2424ff"/>
<circle cx="609.2" cy="210.0" r="1.65" fill="#2424ff"/>
<circle cx="628.6" cy="239.1" r="1.65" fill="#2424ff"/>
<rect x="495.4" y="175.8" width="33.6" height="36.2" rx="1.2" fill="#fff" fill-opacity="0.85" stroke="#d4d4d4" stroke-width="0.5"/>
<g stroke-width="0.8">
<path d="M497.1,181 H508.5" stroke="#ff1a1a"/><circle cx="502.8" cy="181" r="1.6" fill="#ff1a1a"/>
<path d="M497.1,189.7 H508.5" stroke="#f5a21d"/><circle cx="502.8" cy="189.7" r="1.6" fill="#f5a21d"/>
<path d="M497.1,198.3 H508.5" stroke="#2a8f2a"/><circle cx="502.8" cy="198.3" r="1.6" fill="#2a8f2a"/>
<path d="M497.1,206.9 H508.5" stroke="#2424ff"/><circle cx="502.8" cy="206.9" r="1.6" fill="#2424ff"/>
</g>
<g style="font-size:6.2px" fill="#262626">
<text x="513" y="183.1">Front</text><text x="513" y="191.8">Right</text><text x="513" y="200.4">Back</text><text x="513" y="209">Left</text>
</g>
</g>
<text class="cap" x="491.8" y="324.2" textLength="298" lengthAdjust="spacingAndGlyphs">Varying bed temperature and fan cooling settings caused thermal and</text>
<text class="cap" x="491.5" y="335.6" textLength="94" lengthAdjust="spacingAndGlyphs">geometric anomalies.</text>
</svg>
</body></html>
